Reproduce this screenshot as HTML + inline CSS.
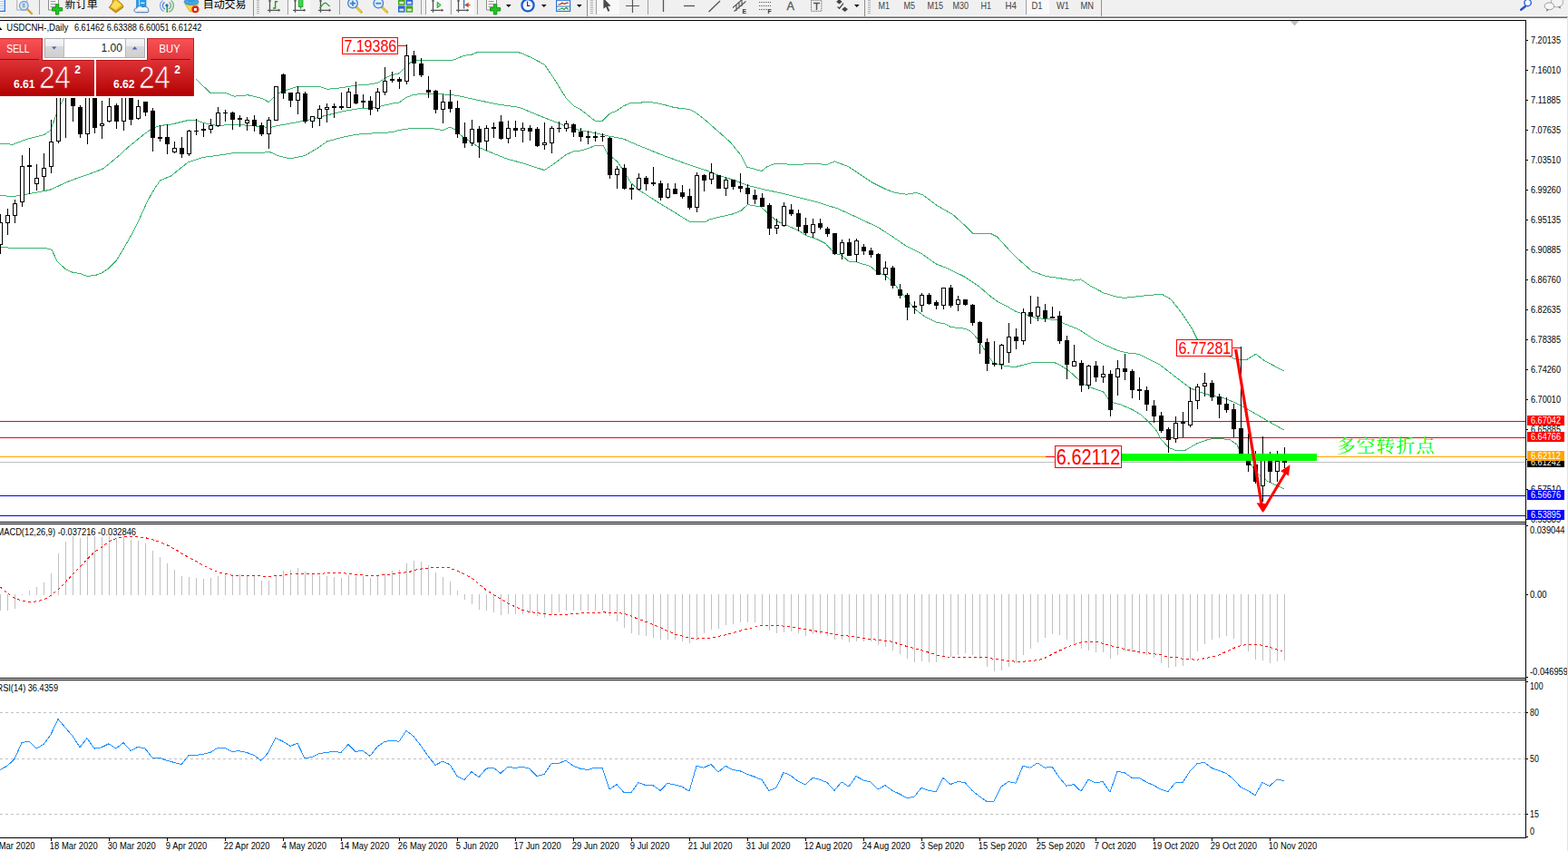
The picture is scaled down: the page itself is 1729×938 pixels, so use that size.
<!DOCTYPE html>
<html><head><meta charset="utf-8"><title>USDCNH Daily</title>
<style>
html,body{margin:0;padding:0;background:#fff;overflow:hidden}
svg{display:block;font-family:"Liberation Sans",sans-serif}
</style></head><body>
<svg width="1729" height="938" viewBox="0 0 1729 938">
<rect x="0" y="0" width="1729" height="938" fill="#fff"/>
<g shape-rendering="crispEdges">
<rect x="0" y="464" width="1682" height="1" fill="#ff0000"/>
<rect x="0" y="482" width="1682" height="1" fill="#ff0000"/>
<rect x="0" y="503" width="1682" height="1" fill="#ffa500"/>
<rect x="0" y="509" width="1682" height="1" fill="#c0c0c0"/>
<rect x="0" y="546" width="1682" height="1" fill="#0000ff"/>
<rect x="0" y="568" width="1682" height="1" fill="#0000ff"/>
</g>
<g id="bands" shape-rendering="crispEdges">
<polyline points="0.0,158.4 14.2,159.2 30.4,153.1 48.6,148.6 55.7,143.6 62.8,124.3 69.9,109.1 72.9,100.0 90.0,80.0 150.0,70.0 213.0,84.0 215.9,86.9 231.8,102.3 249.7,102.8 258.2,106.2 273.6,104.8 288.1,108.2 296.6,112.5 306.0,103.1 315.4,99.7 328.2,95.1 352.1,95.4 360.6,98.3 375.9,96.8 392.1,94.2 408.4,92.9 416.9,91.2 424.6,86.1 432.2,82.6 440.0,80.9 444.8,76.2 448.0,73.6 452.8,68.7 457.9,67.0 462.2,66.4 492.9,66.4 498.0,67.0 511.6,61.3 520.2,60.1 527.9,57.1 542.4,57.9 549.2,57.1 569.6,57.1 576.5,59.3 586.7,63.9 600.4,71.2 610.6,86.1 624.2,108.2 632.8,116.8 639.6,120.2 651.5,129.6 656.4,133.4 664.0,133.4 672.3,125.2 679.9,122.3 686.9,117.2 695.1,113.5 706.9,113.2 710.4,112.1 716.2,112.3 724.5,113.7 733.8,115.8 743.2,118.5 752.6,119.6 760.8,120.7 766.7,124.0 774.9,129.9 789.6,142.8 805.0,156.4 816.9,170.9 823.8,184.2 840.0,188.5 845.9,183.7 854.5,180.3 871.5,181.2 881.8,181.7 888.6,180.5 912.5,181.2 920.5,177.9 935.8,183.8 946.0,190.7 961.4,200.9 976.7,208.6 987.0,212.4 999.8,214.2 1010.0,212.4 1017.7,215.0 1033.0,226.5 1050.9,236.7 1063.7,248.3 1072.7,257.2 1091.9,257.2 1099.5,261.0 1112.3,275.1 1122.6,285.4 1137.9,298.9 1153.3,304.5 1171.2,307.1 1184.0,309.1 1191.6,307.9 1201.9,314.8 1217.2,323.0 1232.6,327.6 1240.2,328.3 1258.1,326.3 1281.2,324.2 1291.4,330.1 1304.2,346.7 1314.4,362.1 1319.9,373.3 1343.4,385.3 1353.2,391.9 1363.1,396.2 1375.1,396.2 1384.9,390.1 1393.7,397.3 1415.5,408.9" fill="none" stroke="#3cb371" stroke-width="1"/>
<polyline points="0.0,215.5 14.2,216.5 24.3,215.1 54.7,209.4 77.0,199.3 97.3,192.2 113.5,186.1 129.7,172.9 141.8,161.8 158.1,148.6 168.2,141.5 176.3,138.5 190.0,136.9 207.1,132.6 215.6,132.1 224.1,135.5 239.5,138.6 256.5,137.2 271.9,138.1 288.1,139.5 297.5,140.6 306.0,138.6 336.7,133.0 360.6,127.0 375.9,123.2 392.1,120.2 408.4,118.8 416.9,117.6 432.2,114.2 440.0,113.0 448.0,107.4 456.2,104.3 472.4,103.1 496.3,104.3 508.2,106.2 528.7,110.8 549.2,115.1 573.1,118.5 593.5,127.0 610.6,133.8 625.9,139.8 641.3,144.1 656.6,146.6 660.0,147.6 671.9,150.1 687.3,153.0 700.9,159.0 728.2,170.1 760.6,182.0 779.4,188.0 793.1,193.5 808.4,198.2 823.8,204.2 840.8,208.5 864.7,213.6 881.8,217.9 898.8,222.1 923.9,230.0 942.6,238.5 968.2,250.5 985.3,261.6 998.9,270.9 1016.0,279.5 1033.1,291.4 1041.6,294.5 1063.8,305.1 1079.1,315.3 1092.8,327.2 1101.3,333.2 1111.5,338.3 1120.1,343.4 1128.6,346.0 1142.2,350.3 1152.5,351.5 1165.5,352.8 1172.4,356.2 1189.4,363.0 1206.5,374.1 1220.1,380.9 1232.1,386.1 1240.6,388.6 1255.9,390.3 1274.7,399.7 1280.0,402.8 1295.3,414.8 1312.8,427.9 1328.1,434.0 1352.1,439.5 1367.4,446.5 1384.9,456.3 1398.0,464.0 1415.5,473.8" fill="none" stroke="#3cb371" stroke-width="1"/>
<polyline points="0.0,272.3 12.7,273.3 50.8,273.6 57.1,275.4 63.4,288.7 72.5,296.8 79.8,300.1 88.8,301.7 96.1,304.4 105.1,303.5 112.4,300.8 119.6,295.9 128.7,286.8 137.8,271.4 145.0,258.8 154.1,240.6 163.1,220.7 170.4,208.0 176.7,198.9 183.1,196.2 188.5,194.0 207.1,179.0 224.1,173.4 239.5,171.4 256.5,168.8 271.9,168.3 288.1,168.8 296.6,167.1 306.0,171.4 319.6,174.8 336.7,171.4 352.1,162.0 360.6,156.0 375.9,151.7 392.1,148.3 408.4,147.1 432.2,145.8 440.0,143.5 451.9,141.8 475.8,141.5 488.6,143.5 496.0,140.3 501.4,142.4 508.2,149.2 528.7,162.8 559.4,175.3 576.5,179.9 600.4,187.6 610.6,180.7 624.2,170.5 632.8,166.6 641.3,165.9 656.6,160.6 660.0,160.4 665.1,160.4 670.2,170.1 680.5,177.8 688.1,188.9 695.8,201.6 704.4,209.3 728.2,224.7 745.3,234.9 760.6,244.6 777.7,244.6 782.8,241.7 808.4,235.8 816.9,232.4 824.6,225.5 839.1,228.1 847.6,235.8 856.2,243.4 864.7,247.4 880.1,253.7 888.6,259.6 900.0,263.3 910.2,268.4 920.5,279.5 928.1,281.2 935.8,288.0 944.4,288.9 959.7,293.5 968.2,300.8 975.9,303.4 985.3,311.9 992.1,320.4 1000.6,330.6 1009.2,340.9 1019.4,348.6 1033.1,355.4 1041.6,356.6 1048.4,360.5 1063.8,362.2 1070.0,364.7 1078.5,374.1 1087.1,387.8 1095.6,400.6 1109.2,403.5 1119.5,404.5 1126.3,402.8 1138.2,399.7 1162.1,399.4 1168.9,402.3 1179.2,409.1 1189.4,418.5 1194.5,423.2 1206.5,428.4 1216.7,432.1 1223.5,441.5 1228.6,444.4 1235.5,445.8 1249.1,451.7 1257.6,456.9 1266.2,464.5 1274.7,473.9 1280.0,483.7 1288.7,493.5 1297.5,496.8 1306.2,496.8 1319.3,489.1 1332.5,484.3 1343.4,483.2 1356.5,484.8 1364.2,490.2 1367.4,499.0 1378.4,509.9 1384.9,520.8 1398.0,530.7 1415.5,538.7" fill="none" stroke="#3cb371" stroke-width="1"/>
</g>
<g id="candles" shape-rendering="crispEdges">
<rect x="0" y="236" width="1" height="44" fill="#000"/>
<rect x="-2" y="245" width="5" height="25" fill="#000"/>
<rect x="-1" y="246" width="3" height="23" fill="#fff"/>
<rect x="8" y="230" width="1" height="29" fill="#000"/>
<rect x="6" y="237" width="5" height="9" fill="#000"/>
<rect x="7" y="238" width="3" height="7" fill="#fff"/>
<rect x="16" y="220" width="1" height="26" fill="#000"/>
<rect x="14" y="224" width="5" height="14" fill="#000"/>
<rect x="15" y="225" width="3" height="12" fill="#fff"/>
<rect x="24" y="171" width="1" height="57" fill="#000"/>
<rect x="22" y="183" width="5" height="40" fill="#000"/>
<rect x="23" y="184" width="3" height="38" fill="#fff"/>
<rect x="32" y="163" width="1" height="51" fill="#000"/>
<rect x="30" y="182" width="5" height="2" fill="#000"/>
<rect x="40" y="181" width="1" height="29" fill="#000"/>
<rect x="38" y="196" width="5" height="7" fill="#000"/>
<rect x="39" y="197" width="3" height="5" fill="#fff"/>
<rect x="48" y="169" width="1" height="41" fill="#000"/>
<rect x="46" y="185" width="5" height="10" fill="#000"/>
<rect x="47" y="186" width="3" height="8" fill="#fff"/>
<rect x="56" y="132" width="1" height="59" fill="#000"/>
<rect x="54" y="156" width="5" height="28" fill="#000"/>
<rect x="55" y="157" width="3" height="26" fill="#fff"/>
<rect x="64" y="85" width="1" height="73" fill="#000"/>
<rect x="62" y="90" width="5" height="66" fill="#000"/>
<rect x="63" y="91" width="3" height="64" fill="#fff"/>
<rect x="72" y="85" width="1" height="67" fill="#000"/>
<rect x="70" y="92" width="5" height="8" fill="#000"/>
<rect x="80" y="90" width="1" height="44" fill="#000"/>
<rect x="78" y="95" width="5" height="22" fill="#000"/>
<rect x="88" y="116" width="1" height="36" fill="#000"/>
<rect x="86" y="118" width="5" height="30" fill="#000"/>
<rect x="96" y="95" width="1" height="64" fill="#000"/>
<rect x="94" y="100" width="5" height="48" fill="#000"/>
<rect x="95" y="101" width="3" height="46" fill="#fff"/>
<rect x="104" y="95" width="1" height="52" fill="#000"/>
<rect x="102" y="100" width="5" height="41" fill="#000"/>
<rect x="112" y="111" width="1" height="42" fill="#000"/>
<rect x="110" y="136" width="5" height="3" fill="#000"/>
<rect x="111" y="137" width="3" height="1" fill="#fff"/>
<rect x="120" y="108" width="1" height="27" fill="#000"/>
<rect x="118" y="117" width="5" height="17" fill="#000"/>
<rect x="119" y="118" width="3" height="15" fill="#fff"/>
<rect x="128" y="114" width="1" height="28" fill="#000"/>
<rect x="126" y="116" width="5" height="18" fill="#000"/>
<rect x="136" y="95" width="1" height="49" fill="#000"/>
<rect x="134" y="100" width="5" height="34" fill="#000"/>
<rect x="135" y="101" width="3" height="32" fill="#fff"/>
<rect x="144" y="95" width="1" height="43" fill="#000"/>
<rect x="142" y="100" width="5" height="32" fill="#000"/>
<rect x="152" y="110" width="1" height="22" fill="#000"/>
<rect x="150" y="117" width="5" height="14" fill="#000"/>
<rect x="151" y="118" width="3" height="12" fill="#fff"/>
<rect x="160" y="112" width="1" height="16" fill="#000"/>
<rect x="158" y="112" width="5" height="12" fill="#000"/>
<rect x="168" y="119" width="1" height="48" fill="#000"/>
<rect x="166" y="122" width="5" height="30" fill="#000"/>
<rect x="176" y="138" width="1" height="18" fill="#000"/>
<rect x="174" y="151" width="5" height="2" fill="#000"/>
<rect x="184" y="137" width="1" height="33" fill="#000"/>
<rect x="182" y="151" width="5" height="8" fill="#000"/>
<rect x="192" y="156" width="1" height="13" fill="#000"/>
<rect x="190" y="163" width="5" height="5" fill="#000"/>
<rect x="191" y="164" width="3" height="3" fill="#fff"/>
<rect x="200" y="151" width="1" height="23" fill="#000"/>
<rect x="198" y="163" width="5" height="7" fill="#000"/>
<rect x="208" y="143" width="1" height="29" fill="#000"/>
<rect x="206" y="144" width="5" height="26" fill="#000"/>
<rect x="207" y="145" width="3" height="24" fill="#fff"/>
<rect x="216" y="131" width="1" height="18" fill="#000"/>
<rect x="214" y="144" width="5" height="1" fill="#000"/>
<rect x="224" y="136" width="1" height="15" fill="#000"/>
<rect x="222" y="142" width="5" height="2" fill="#000"/>
<rect x="232" y="131" width="1" height="16" fill="#000"/>
<rect x="230" y="138" width="5" height="5" fill="#000"/>
<rect x="231" y="139" width="3" height="3" fill="#fff"/>
<rect x="240" y="118" width="1" height="22" fill="#000"/>
<rect x="238" y="124" width="5" height="15" fill="#000"/>
<rect x="239" y="125" width="3" height="13" fill="#fff"/>
<rect x="248" y="121" width="1" height="13" fill="#000"/>
<rect x="246" y="124" width="5" height="1" fill="#000"/>
<rect x="256" y="123" width="1" height="20" fill="#000"/>
<rect x="254" y="124" width="5" height="8" fill="#000"/>
<rect x="264" y="127" width="1" height="13" fill="#000"/>
<rect x="262" y="130" width="5" height="2" fill="#000"/>
<rect x="272" y="129" width="1" height="15" fill="#000"/>
<rect x="270" y="132" width="5" height="4" fill="#000"/>
<rect x="271" y="133" width="3" height="2" fill="#fff"/>
<rect x="280" y="127" width="1" height="18" fill="#000"/>
<rect x="278" y="132" width="5" height="7" fill="#000"/>
<rect x="288" y="135" width="1" height="15" fill="#000"/>
<rect x="286" y="138" width="5" height="10" fill="#000"/>
<rect x="296" y="129" width="1" height="35" fill="#000"/>
<rect x="294" y="132" width="5" height="16" fill="#000"/>
<rect x="295" y="133" width="3" height="14" fill="#fff"/>
<rect x="304" y="95" width="1" height="38" fill="#000"/>
<rect x="302" y="95" width="5" height="38" fill="#000"/>
<rect x="303" y="96" width="3" height="36" fill="#fff"/>
<rect x="312" y="81" width="1" height="28" fill="#000"/>
<rect x="310" y="82" width="5" height="21" fill="#000"/>
<rect x="320" y="102" width="1" height="16" fill="#000"/>
<rect x="318" y="102" width="5" height="9" fill="#000"/>
<rect x="328" y="95" width="1" height="31" fill="#000"/>
<rect x="326" y="102" width="5" height="9" fill="#000"/>
<rect x="327" y="103" width="3" height="7" fill="#fff"/>
<rect x="336" y="101" width="1" height="35" fill="#000"/>
<rect x="334" y="103" width="5" height="31" fill="#000"/>
<rect x="344" y="129" width="1" height="12" fill="#000"/>
<rect x="342" y="128" width="5" height="6" fill="#000"/>
<rect x="343" y="129" width="3" height="4" fill="#fff"/>
<rect x="352" y="116" width="1" height="23" fill="#000"/>
<rect x="350" y="120" width="5" height="11" fill="#000"/>
<rect x="351" y="121" width="3" height="9" fill="#fff"/>
<rect x="360" y="114" width="1" height="21" fill="#000"/>
<rect x="358" y="118" width="5" height="3" fill="#000"/>
<rect x="359" y="119" width="3" height="1" fill="#fff"/>
<rect x="368" y="114" width="1" height="16" fill="#000"/>
<rect x="366" y="117" width="5" height="2" fill="#000"/>
<rect x="376" y="102" width="1" height="19" fill="#000"/>
<rect x="374" y="117" width="5" height="2" fill="#000"/>
<rect x="384" y="97" width="1" height="22" fill="#000"/>
<rect x="382" y="101" width="5" height="18" fill="#000"/>
<rect x="383" y="102" width="3" height="16" fill="#fff"/>
<rect x="392" y="90" width="1" height="25" fill="#000"/>
<rect x="390" y="104" width="5" height="10" fill="#000"/>
<rect x="400" y="104" width="1" height="15" fill="#000"/>
<rect x="398" y="111" width="5" height="2" fill="#000"/>
<rect x="408" y="106" width="1" height="21" fill="#000"/>
<rect x="406" y="111" width="5" height="10" fill="#000"/>
<rect x="416" y="97" width="1" height="26" fill="#000"/>
<rect x="414" y="101" width="5" height="19" fill="#000"/>
<rect x="415" y="102" width="3" height="17" fill="#fff"/>
<rect x="424" y="74" width="1" height="31" fill="#000"/>
<rect x="422" y="89" width="5" height="13" fill="#000"/>
<rect x="423" y="90" width="3" height="11" fill="#fff"/>
<rect x="432" y="79" width="1" height="12" fill="#000"/>
<rect x="430" y="87" width="5" height="2" fill="#000"/>
<rect x="440" y="85" width="1" height="13" fill="#000"/>
<rect x="438" y="87" width="5" height="3" fill="#000"/>
<rect x="448" y="49" width="1" height="44" fill="#000"/>
<rect x="446" y="61" width="5" height="29" fill="#000"/>
<rect x="447" y="62" width="3" height="27" fill="#fff"/>
<rect x="456" y="56" width="1" height="28" fill="#000"/>
<rect x="454" y="61" width="5" height="9" fill="#000"/>
<rect x="464" y="64" width="1" height="21" fill="#000"/>
<rect x="462" y="70" width="5" height="13" fill="#000"/>
<rect x="472" y="84" width="1" height="24" fill="#000"/>
<rect x="470" y="99" width="5" height="3" fill="#000"/>
<rect x="480" y="99" width="1" height="26" fill="#000"/>
<rect x="478" y="100" width="5" height="21" fill="#000"/>
<rect x="488" y="104" width="1" height="32" fill="#000"/>
<rect x="486" y="112" width="5" height="9" fill="#000"/>
<rect x="487" y="113" width="3" height="7" fill="#fff"/>
<rect x="496" y="99" width="1" height="25" fill="#000"/>
<rect x="494" y="112" width="5" height="8" fill="#000"/>
<rect x="504" y="111" width="1" height="41" fill="#000"/>
<rect x="502" y="119" width="5" height="29" fill="#000"/>
<rect x="512" y="135" width="1" height="28" fill="#000"/>
<rect x="510" y="151" width="5" height="7" fill="#000"/>
<rect x="520" y="132" width="1" height="29" fill="#000"/>
<rect x="518" y="142" width="5" height="16" fill="#000"/>
<rect x="519" y="143" width="3" height="14" fill="#fff"/>
<rect x="528" y="139" width="1" height="35" fill="#000"/>
<rect x="526" y="142" width="5" height="15" fill="#000"/>
<rect x="536" y="138" width="1" height="28" fill="#000"/>
<rect x="534" y="141" width="5" height="15" fill="#000"/>
<rect x="535" y="142" width="3" height="13" fill="#fff"/>
<rect x="544" y="135" width="1" height="17" fill="#000"/>
<rect x="542" y="140" width="5" height="2" fill="#000"/>
<rect x="552" y="127" width="1" height="27" fill="#000"/>
<rect x="550" y="134" width="5" height="19" fill="#000"/>
<rect x="560" y="133" width="1" height="25" fill="#000"/>
<rect x="558" y="141" width="5" height="12" fill="#000"/>
<rect x="559" y="142" width="3" height="10" fill="#fff"/>
<rect x="568" y="133" width="1" height="18" fill="#000"/>
<rect x="566" y="141" width="5" height="3" fill="#000"/>
<rect x="576" y="135" width="1" height="22" fill="#000"/>
<rect x="574" y="141" width="5" height="3" fill="#000"/>
<rect x="575" y="142" width="3" height="1" fill="#fff"/>
<rect x="584" y="138" width="1" height="17" fill="#000"/>
<rect x="582" y="141" width="5" height="4" fill="#000"/>
<rect x="592" y="140" width="1" height="22" fill="#000"/>
<rect x="590" y="142" width="5" height="19" fill="#000"/>
<rect x="600" y="135" width="1" height="30" fill="#000"/>
<rect x="598" y="157" width="5" height="3" fill="#000"/>
<rect x="599" y="158" width="3" height="1" fill="#fff"/>
<rect x="608" y="139" width="1" height="30" fill="#000"/>
<rect x="606" y="141" width="5" height="17" fill="#000"/>
<rect x="607" y="142" width="3" height="15" fill="#fff"/>
<rect x="616" y="134" width="1" height="12" fill="#000"/>
<rect x="614" y="141" width="5" height="1" fill="#000"/>
<rect x="624" y="133" width="1" height="12" fill="#000"/>
<rect x="622" y="136" width="5" height="6" fill="#000"/>
<rect x="623" y="137" width="3" height="4" fill="#fff"/>
<rect x="632" y="136" width="1" height="15" fill="#000"/>
<rect x="630" y="137" width="5" height="9" fill="#000"/>
<rect x="640" y="141" width="1" height="15" fill="#000"/>
<rect x="638" y="145" width="5" height="6" fill="#000"/>
<rect x="648" y="144" width="1" height="15" fill="#000"/>
<rect x="646" y="150" width="5" height="2" fill="#000"/>
<rect x="656" y="145" width="1" height="11" fill="#000"/>
<rect x="654" y="150" width="5" height="2" fill="#000"/>
<rect x="664" y="147" width="1" height="9" fill="#000"/>
<rect x="662" y="150" width="5" height="1" fill="#000"/>
<rect x="672" y="151" width="1" height="46" fill="#000"/>
<rect x="670" y="152" width="5" height="41" fill="#000"/>
<rect x="680" y="183" width="1" height="25" fill="#000"/>
<rect x="678" y="186" width="5" height="7" fill="#000"/>
<rect x="679" y="187" width="3" height="5" fill="#fff"/>
<rect x="688" y="181" width="1" height="28" fill="#000"/>
<rect x="686" y="185" width="5" height="23" fill="#000"/>
<rect x="696" y="203" width="1" height="17" fill="#000"/>
<rect x="694" y="207" width="5" height="2" fill="#000"/>
<rect x="704" y="191" width="1" height="19" fill="#000"/>
<rect x="702" y="196" width="5" height="13" fill="#000"/>
<rect x="703" y="197" width="3" height="11" fill="#fff"/>
<rect x="712" y="194" width="1" height="16" fill="#000"/>
<rect x="710" y="196" width="5" height="7" fill="#000"/>
<rect x="720" y="184" width="1" height="21" fill="#000"/>
<rect x="718" y="201" width="5" height="2" fill="#000"/>
<rect x="728" y="199" width="1" height="22" fill="#000"/>
<rect x="726" y="202" width="5" height="16" fill="#000"/>
<rect x="736" y="202" width="1" height="17" fill="#000"/>
<rect x="734" y="208" width="5" height="10" fill="#000"/>
<rect x="735" y="209" width="3" height="8" fill="#fff"/>
<rect x="744" y="202" width="1" height="12" fill="#000"/>
<rect x="742" y="208" width="5" height="6" fill="#000"/>
<rect x="752" y="204" width="1" height="15" fill="#000"/>
<rect x="750" y="212" width="5" height="5" fill="#000"/>
<rect x="760" y="208" width="1" height="23" fill="#000"/>
<rect x="758" y="216" width="5" height="13" fill="#000"/>
<rect x="768" y="190" width="1" height="44" fill="#000"/>
<rect x="766" y="193" width="5" height="36" fill="#000"/>
<rect x="767" y="194" width="3" height="34" fill="#fff"/>
<rect x="776" y="192" width="1" height="19" fill="#000"/>
<rect x="774" y="193" width="5" height="6" fill="#000"/>
<rect x="784" y="180" width="1" height="23" fill="#000"/>
<rect x="782" y="190" width="5" height="8" fill="#000"/>
<rect x="783" y="191" width="3" height="6" fill="#fff"/>
<rect x="792" y="193" width="1" height="15" fill="#000"/>
<rect x="790" y="193" width="5" height="15" fill="#000"/>
<rect x="800" y="195" width="1" height="21" fill="#000"/>
<rect x="798" y="198" width="5" height="10" fill="#000"/>
<rect x="799" y="199" width="3" height="8" fill="#fff"/>
<rect x="808" y="198" width="1" height="11" fill="#000"/>
<rect x="806" y="198" width="5" height="8" fill="#000"/>
<rect x="816" y="191" width="1" height="21" fill="#000"/>
<rect x="814" y="205" width="5" height="3" fill="#000"/>
<rect x="824" y="203" width="1" height="22" fill="#000"/>
<rect x="822" y="207" width="5" height="7" fill="#000"/>
<rect x="832" y="209" width="1" height="16" fill="#000"/>
<rect x="830" y="215" width="5" height="5" fill="#000"/>
<rect x="840" y="213" width="1" height="15" fill="#000"/>
<rect x="838" y="218" width="5" height="10" fill="#000"/>
<rect x="848" y="224" width="1" height="35" fill="#000"/>
<rect x="846" y="226" width="5" height="26" fill="#000"/>
<rect x="856" y="241" width="1" height="17" fill="#000"/>
<rect x="854" y="248" width="5" height="4" fill="#000"/>
<rect x="855" y="249" width="3" height="2" fill="#fff"/>
<rect x="864" y="223" width="1" height="27" fill="#000"/>
<rect x="862" y="227" width="5" height="22" fill="#000"/>
<rect x="863" y="228" width="3" height="20" fill="#fff"/>
<rect x="872" y="225" width="1" height="13" fill="#000"/>
<rect x="870" y="231" width="5" height="5" fill="#000"/>
<rect x="880" y="231" width="1" height="24" fill="#000"/>
<rect x="878" y="235" width="5" height="15" fill="#000"/>
<rect x="888" y="240" width="1" height="19" fill="#000"/>
<rect x="886" y="248" width="5" height="9" fill="#000"/>
<rect x="896" y="241" width="1" height="21" fill="#000"/>
<rect x="894" y="247" width="5" height="10" fill="#000"/>
<rect x="895" y="248" width="3" height="8" fill="#fff"/>
<rect x="904" y="241" width="1" height="12" fill="#000"/>
<rect x="902" y="246" width="5" height="5" fill="#000"/>
<rect x="912" y="250" width="1" height="11" fill="#000"/>
<rect x="910" y="252" width="5" height="6" fill="#000"/>
<rect x="920" y="257" width="1" height="24" fill="#000"/>
<rect x="918" y="257" width="5" height="23" fill="#000"/>
<rect x="928" y="264" width="1" height="22" fill="#000"/>
<rect x="926" y="267" width="5" height="13" fill="#000"/>
<rect x="927" y="268" width="3" height="11" fill="#fff"/>
<rect x="936" y="263" width="1" height="19" fill="#000"/>
<rect x="934" y="267" width="5" height="15" fill="#000"/>
<rect x="944" y="263" width="1" height="26" fill="#000"/>
<rect x="942" y="265" width="5" height="16" fill="#000"/>
<rect x="943" y="266" width="3" height="14" fill="#fff"/>
<rect x="952" y="269" width="1" height="12" fill="#000"/>
<rect x="950" y="272" width="5" height="5" fill="#000"/>
<rect x="960" y="273" width="1" height="11" fill="#000"/>
<rect x="958" y="276" width="5" height="5" fill="#000"/>
<rect x="968" y="279" width="1" height="24" fill="#000"/>
<rect x="966" y="280" width="5" height="23" fill="#000"/>
<rect x="976" y="288" width="1" height="21" fill="#000"/>
<rect x="974" y="295" width="5" height="8" fill="#000"/>
<rect x="975" y="296" width="3" height="6" fill="#fff"/>
<rect x="984" y="293" width="1" height="25" fill="#000"/>
<rect x="982" y="295" width="5" height="20" fill="#000"/>
<rect x="992" y="313" width="1" height="16" fill="#000"/>
<rect x="990" y="319" width="5" height="7" fill="#000"/>
<rect x="1000" y="323" width="1" height="30" fill="#000"/>
<rect x="998" y="325" width="5" height="14" fill="#000"/>
<rect x="1008" y="332" width="1" height="14" fill="#000"/>
<rect x="1006" y="337" width="5" height="2" fill="#000"/>
<rect x="1016" y="323" width="1" height="21" fill="#000"/>
<rect x="1014" y="325" width="5" height="12" fill="#000"/>
<rect x="1015" y="326" width="3" height="10" fill="#fff"/>
<rect x="1024" y="323" width="1" height="13" fill="#000"/>
<rect x="1022" y="325" width="5" height="10" fill="#000"/>
<rect x="1032" y="331" width="1" height="10" fill="#000"/>
<rect x="1030" y="333" width="5" height="4" fill="#000"/>
<rect x="1040" y="317" width="1" height="24" fill="#000"/>
<rect x="1038" y="317" width="5" height="20" fill="#000"/>
<rect x="1039" y="318" width="3" height="18" fill="#fff"/>
<rect x="1048" y="314" width="1" height="25" fill="#000"/>
<rect x="1046" y="317" width="5" height="20" fill="#000"/>
<rect x="1056" y="326" width="1" height="17" fill="#000"/>
<rect x="1054" y="330" width="5" height="6" fill="#000"/>
<rect x="1055" y="331" width="3" height="4" fill="#fff"/>
<rect x="1064" y="330" width="1" height="7" fill="#000"/>
<rect x="1062" y="330" width="5" height="6" fill="#000"/>
<rect x="1072" y="335" width="1" height="24" fill="#000"/>
<rect x="1070" y="336" width="5" height="20" fill="#000"/>
<rect x="1080" y="354" width="1" height="36" fill="#000"/>
<rect x="1078" y="355" width="5" height="23" fill="#000"/>
<rect x="1088" y="373" width="1" height="36" fill="#000"/>
<rect x="1086" y="377" width="5" height="24" fill="#000"/>
<rect x="1096" y="376" width="1" height="28" fill="#000"/>
<rect x="1094" y="400" width="5" height="2" fill="#000"/>
<rect x="1104" y="379" width="1" height="28" fill="#000"/>
<rect x="1102" y="380" width="5" height="22" fill="#000"/>
<rect x="1103" y="381" width="3" height="20" fill="#fff"/>
<rect x="1112" y="356" width="1" height="44" fill="#000"/>
<rect x="1110" y="371" width="5" height="18" fill="#000"/>
<rect x="1111" y="372" width="3" height="16" fill="#fff"/>
<rect x="1120" y="362" width="1" height="23" fill="#000"/>
<rect x="1118" y="371" width="5" height="5" fill="#000"/>
<rect x="1128" y="340" width="1" height="40" fill="#000"/>
<rect x="1126" y="344" width="5" height="32" fill="#000"/>
<rect x="1127" y="345" width="3" height="30" fill="#fff"/>
<rect x="1136" y="326" width="1" height="31" fill="#000"/>
<rect x="1134" y="344" width="5" height="5" fill="#000"/>
<rect x="1144" y="327" width="1" height="27" fill="#000"/>
<rect x="1142" y="338" width="5" height="11" fill="#000"/>
<rect x="1143" y="339" width="3" height="9" fill="#fff"/>
<rect x="1152" y="335" width="1" height="20" fill="#000"/>
<rect x="1150" y="342" width="5" height="9" fill="#000"/>
<rect x="1160" y="338" width="1" height="13" fill="#000"/>
<rect x="1158" y="349" width="5" height="2" fill="#000"/>
<rect x="1168" y="343" width="1" height="36" fill="#000"/>
<rect x="1166" y="348" width="5" height="28" fill="#000"/>
<rect x="1176" y="370" width="1" height="48" fill="#000"/>
<rect x="1174" y="375" width="5" height="27" fill="#000"/>
<rect x="1184" y="380" width="1" height="24" fill="#000"/>
<rect x="1182" y="398" width="5" height="6" fill="#000"/>
<rect x="1183" y="399" width="3" height="4" fill="#fff"/>
<rect x="1192" y="397" width="1" height="35" fill="#000"/>
<rect x="1190" y="400" width="5" height="25" fill="#000"/>
<rect x="1200" y="402" width="1" height="27" fill="#000"/>
<rect x="1198" y="403" width="5" height="22" fill="#000"/>
<rect x="1199" y="404" width="3" height="20" fill="#fff"/>
<rect x="1208" y="398" width="1" height="23" fill="#000"/>
<rect x="1206" y="403" width="5" height="13" fill="#000"/>
<rect x="1216" y="403" width="1" height="19" fill="#000"/>
<rect x="1214" y="412" width="5" height="4" fill="#000"/>
<rect x="1215" y="413" width="3" height="2" fill="#fff"/>
<rect x="1224" y="408" width="1" height="51" fill="#000"/>
<rect x="1222" y="412" width="5" height="40" fill="#000"/>
<rect x="1232" y="397" width="1" height="39" fill="#000"/>
<rect x="1230" y="406" width="5" height="10" fill="#000"/>
<rect x="1231" y="407" width="3" height="8" fill="#fff"/>
<rect x="1240" y="390" width="1" height="29" fill="#000"/>
<rect x="1238" y="406" width="5" height="4" fill="#000"/>
<rect x="1248" y="407" width="1" height="32" fill="#000"/>
<rect x="1246" y="409" width="5" height="21" fill="#000"/>
<rect x="1256" y="416" width="1" height="25" fill="#000"/>
<rect x="1254" y="429" width="5" height="2" fill="#000"/>
<rect x="1264" y="426" width="1" height="27" fill="#000"/>
<rect x="1262" y="430" width="5" height="16" fill="#000"/>
<rect x="1272" y="441" width="1" height="25" fill="#000"/>
<rect x="1270" y="447" width="5" height="12" fill="#000"/>
<rect x="1280" y="454" width="1" height="23" fill="#000"/>
<rect x="1278" y="458" width="5" height="17" fill="#000"/>
<rect x="1288" y="471" width="1" height="28" fill="#000"/>
<rect x="1286" y="473" width="5" height="12" fill="#000"/>
<rect x="1296" y="459" width="1" height="29" fill="#000"/>
<rect x="1294" y="466" width="5" height="18" fill="#000"/>
<rect x="1295" y="467" width="3" height="16" fill="#fff"/>
<rect x="1304" y="454" width="1" height="28" fill="#000"/>
<rect x="1302" y="465" width="5" height="2" fill="#000"/>
<rect x="1312" y="427" width="1" height="44" fill="#000"/>
<rect x="1310" y="442" width="5" height="27" fill="#000"/>
<rect x="1311" y="443" width="3" height="25" fill="#fff"/>
<rect x="1320" y="423" width="1" height="28" fill="#000"/>
<rect x="1318" y="426" width="5" height="16" fill="#000"/>
<rect x="1319" y="427" width="3" height="14" fill="#fff"/>
<rect x="1328" y="411" width="1" height="26" fill="#000"/>
<rect x="1326" y="422" width="5" height="4" fill="#000"/>
<rect x="1327" y="423" width="3" height="2" fill="#fff"/>
<rect x="1336" y="419" width="1" height="23" fill="#000"/>
<rect x="1334" y="422" width="5" height="16" fill="#000"/>
<rect x="1344" y="434" width="1" height="27" fill="#000"/>
<rect x="1342" y="437" width="5" height="9" fill="#000"/>
<rect x="1352" y="438" width="1" height="17" fill="#000"/>
<rect x="1350" y="445" width="5" height="7" fill="#000"/>
<rect x="1360" y="445" width="1" height="37" fill="#000"/>
<rect x="1358" y="451" width="5" height="22" fill="#000"/>
<rect x="1368" y="382" width="1" height="126" fill="#000"/>
<rect x="1366" y="472" width="5" height="36" fill="#000"/>
<rect x="1376" y="478" width="1" height="42" fill="#000"/>
<rect x="1374" y="503" width="5" height="10" fill="#000"/>
<rect x="1384" y="497" width="1" height="36" fill="#000"/>
<rect x="1382" y="512" width="5" height="19" fill="#000"/>
<rect x="1392" y="481" width="1" height="72" fill="#000"/>
<rect x="1390" y="504" width="5" height="32" fill="#000"/>
<rect x="1391" y="505" width="3" height="30" fill="#fff"/>
<rect x="1400" y="498" width="1" height="34" fill="#000"/>
<rect x="1398" y="504" width="5" height="16" fill="#000"/>
<rect x="1408" y="497" width="1" height="34" fill="#000"/>
<rect x="1406" y="508" width="5" height="12" fill="#000"/>
<rect x="1407" y="509" width="3" height="10" fill="#fff"/>
<rect x="1416" y="493" width="1" height="23" fill="#000"/>
<rect x="1414" y="506" width="5" height="4" fill="#000"/>
</g>
<g id="macd" shape-rendering="crispEdges">
<rect x="0" y="655" width="1" height="18" fill="#c0c0c0"/>
<rect x="8" y="655" width="1" height="18" fill="#c0c0c0"/>
<rect x="16" y="655" width="1" height="16" fill="#c0c0c0"/>
<rect x="24" y="655" width="1" height="1" fill="#c0c0c0"/>
<rect x="32" y="651" width="1" height="5" fill="#c0c0c0"/>
<rect x="40" y="647" width="1" height="9" fill="#c0c0c0"/>
<rect x="48" y="642" width="1" height="14" fill="#c0c0c0"/>
<rect x="56" y="632" width="1" height="24" fill="#c0c0c0"/>
<rect x="64" y="610" width="1" height="46" fill="#c0c0c0"/>
<rect x="72" y="597" width="1" height="59" fill="#c0c0c0"/>
<rect x="80" y="591" width="1" height="65" fill="#c0c0c0"/>
<rect x="88" y="593" width="1" height="63" fill="#c0c0c0"/>
<rect x="96" y="591" width="1" height="65" fill="#c0c0c0"/>
<rect x="104" y="591" width="1" height="65" fill="#c0c0c0"/>
<rect x="112" y="592" width="1" height="64" fill="#c0c0c0"/>
<rect x="120" y="591" width="1" height="65" fill="#c0c0c0"/>
<rect x="128" y="593" width="1" height="63" fill="#c0c0c0"/>
<rect x="136" y="591" width="1" height="65" fill="#c0c0c0"/>
<rect x="144" y="595" width="1" height="61" fill="#c0c0c0"/>
<rect x="152" y="596" width="1" height="60" fill="#c0c0c0"/>
<rect x="160" y="599" width="1" height="57" fill="#c0c0c0"/>
<rect x="168" y="607" width="1" height="49" fill="#c0c0c0"/>
<rect x="176" y="614" width="1" height="42" fill="#c0c0c0"/>
<rect x="184" y="621" width="1" height="35" fill="#c0c0c0"/>
<rect x="192" y="628" width="1" height="28" fill="#c0c0c0"/>
<rect x="200" y="635" width="1" height="21" fill="#c0c0c0"/>
<rect x="208" y="636" width="1" height="20" fill="#c0c0c0"/>
<rect x="216" y="637" width="1" height="19" fill="#c0c0c0"/>
<rect x="224" y="638" width="1" height="18" fill="#c0c0c0"/>
<rect x="232" y="637" width="1" height="19" fill="#c0c0c0"/>
<rect x="240" y="635" width="1" height="21" fill="#c0c0c0"/>
<rect x="248" y="633" width="1" height="23" fill="#c0c0c0"/>
<rect x="256" y="633" width="1" height="23" fill="#c0c0c0"/>
<rect x="264" y="633" width="1" height="23" fill="#c0c0c0"/>
<rect x="272" y="634" width="1" height="22" fill="#c0c0c0"/>
<rect x="280" y="635" width="1" height="21" fill="#c0c0c0"/>
<rect x="288" y="640" width="1" height="16" fill="#c0c0c0"/>
<rect x="296" y="640" width="1" height="16" fill="#c0c0c0"/>
<rect x="304" y="634" width="1" height="22" fill="#c0c0c0"/>
<rect x="312" y="629" width="1" height="27" fill="#c0c0c0"/>
<rect x="320" y="628" width="1" height="28" fill="#c0c0c0"/>
<rect x="328" y="626" width="1" height="30" fill="#c0c0c0"/>
<rect x="336" y="630" width="1" height="26" fill="#c0c0c0"/>
<rect x="344" y="632" width="1" height="24" fill="#c0c0c0"/>
<rect x="352" y="634" width="1" height="22" fill="#c0c0c0"/>
<rect x="360" y="635" width="1" height="21" fill="#c0c0c0"/>
<rect x="368" y="636" width="1" height="20" fill="#c0c0c0"/>
<rect x="376" y="637" width="1" height="19" fill="#c0c0c0"/>
<rect x="384" y="634" width="1" height="22" fill="#c0c0c0"/>
<rect x="392" y="635" width="1" height="21" fill="#c0c0c0"/>
<rect x="400" y="635" width="1" height="21" fill="#c0c0c0"/>
<rect x="408" y="637" width="1" height="19" fill="#c0c0c0"/>
<rect x="416" y="634" width="1" height="22" fill="#c0c0c0"/>
<rect x="424" y="632" width="1" height="24" fill="#c0c0c0"/>
<rect x="432" y="629" width="1" height="27" fill="#c0c0c0"/>
<rect x="440" y="628" width="1" height="28" fill="#c0c0c0"/>
<rect x="448" y="621" width="1" height="35" fill="#c0c0c0"/>
<rect x="456" y="618" width="1" height="38" fill="#c0c0c0"/>
<rect x="464" y="619" width="1" height="37" fill="#c0c0c0"/>
<rect x="472" y="623" width="1" height="33" fill="#c0c0c0"/>
<rect x="480" y="631" width="1" height="25" fill="#c0c0c0"/>
<rect x="488" y="636" width="1" height="20" fill="#c0c0c0"/>
<rect x="496" y="641" width="1" height="15" fill="#c0c0c0"/>
<rect x="504" y="651" width="1" height="5" fill="#c0c0c0"/>
<rect x="512" y="655" width="1" height="6" fill="#c0c0c0"/>
<rect x="520" y="655" width="1" height="11" fill="#c0c0c0"/>
<rect x="528" y="655" width="1" height="17" fill="#c0c0c0"/>
<rect x="536" y="655" width="1" height="18" fill="#c0c0c0"/>
<rect x="544" y="655" width="1" height="20" fill="#c0c0c0"/>
<rect x="552" y="655" width="1" height="23" fill="#c0c0c0"/>
<rect x="560" y="655" width="1" height="22" fill="#c0c0c0"/>
<rect x="568" y="655" width="1" height="22" fill="#c0c0c0"/>
<rect x="576" y="655" width="1" height="22" fill="#c0c0c0"/>
<rect x="584" y="655" width="1" height="21" fill="#c0c0c0"/>
<rect x="592" y="655" width="1" height="24" fill="#c0c0c0"/>
<rect x="600" y="655" width="1" height="26" fill="#c0c0c0"/>
<rect x="608" y="655" width="1" height="23" fill="#c0c0c0"/>
<rect x="616" y="655" width="1" height="20" fill="#c0c0c0"/>
<rect x="624" y="655" width="1" height="18" fill="#c0c0c0"/>
<rect x="632" y="655" width="1" height="18" fill="#c0c0c0"/>
<rect x="640" y="655" width="1" height="18" fill="#c0c0c0"/>
<rect x="648" y="655" width="1" height="18" fill="#c0c0c0"/>
<rect x="656" y="655" width="1" height="18" fill="#c0c0c0"/>
<rect x="664" y="655" width="1" height="18" fill="#c0c0c0"/>
<rect x="672" y="655" width="1" height="24" fill="#c0c0c0"/>
<rect x="680" y="655" width="1" height="30" fill="#c0c0c0"/>
<rect x="688" y="655" width="1" height="37" fill="#c0c0c0"/>
<rect x="696" y="655" width="1" height="43" fill="#c0c0c0"/>
<rect x="704" y="655" width="1" height="45" fill="#c0c0c0"/>
<rect x="712" y="655" width="1" height="46" fill="#c0c0c0"/>
<rect x="720" y="655" width="1" height="48" fill="#c0c0c0"/>
<rect x="728" y="655" width="1" height="50" fill="#c0c0c0"/>
<rect x="736" y="655" width="1" height="50" fill="#c0c0c0"/>
<rect x="744" y="655" width="1" height="50" fill="#c0c0c0"/>
<rect x="752" y="655" width="1" height="52" fill="#c0c0c0"/>
<rect x="760" y="655" width="1" height="54" fill="#c0c0c0"/>
<rect x="768" y="655" width="1" height="48" fill="#c0c0c0"/>
<rect x="776" y="655" width="1" height="43" fill="#c0c0c0"/>
<rect x="784" y="655" width="1" height="39" fill="#c0c0c0"/>
<rect x="792" y="655" width="1" height="38" fill="#c0c0c0"/>
<rect x="800" y="655" width="1" height="34" fill="#c0c0c0"/>
<rect x="808" y="655" width="1" height="33" fill="#c0c0c0"/>
<rect x="816" y="655" width="1" height="31" fill="#c0c0c0"/>
<rect x="824" y="655" width="1" height="31" fill="#c0c0c0"/>
<rect x="832" y="655" width="1" height="31" fill="#c0c0c0"/>
<rect x="840" y="655" width="1" height="34" fill="#c0c0c0"/>
<rect x="848" y="655" width="1" height="40" fill="#c0c0c0"/>
<rect x="856" y="655" width="1" height="43" fill="#c0c0c0"/>
<rect x="864" y="655" width="1" height="42" fill="#c0c0c0"/>
<rect x="872" y="655" width="1" height="41" fill="#c0c0c0"/>
<rect x="880" y="655" width="1" height="43" fill="#c0c0c0"/>
<rect x="888" y="655" width="1" height="46" fill="#c0c0c0"/>
<rect x="896" y="655" width="1" height="44" fill="#c0c0c0"/>
<rect x="904" y="655" width="1" height="44" fill="#c0c0c0"/>
<rect x="912" y="655" width="1" height="46" fill="#c0c0c0"/>
<rect x="920" y="655" width="1" height="50" fill="#c0c0c0"/>
<rect x="928" y="655" width="1" height="50" fill="#c0c0c0"/>
<rect x="936" y="655" width="1" height="53" fill="#c0c0c0"/>
<rect x="944" y="655" width="1" height="52" fill="#c0c0c0"/>
<rect x="952" y="655" width="1" height="52" fill="#c0c0c0"/>
<rect x="960" y="655" width="1" height="52" fill="#c0c0c0"/>
<rect x="968" y="655" width="1" height="56" fill="#c0c0c0"/>
<rect x="976" y="655" width="1" height="58" fill="#c0c0c0"/>
<rect x="984" y="655" width="1" height="62" fill="#c0c0c0"/>
<rect x="992" y="655" width="1" height="66" fill="#c0c0c0"/>
<rect x="1000" y="655" width="1" height="71" fill="#c0c0c0"/>
<rect x="1008" y="655" width="1" height="75" fill="#c0c0c0"/>
<rect x="1016" y="655" width="1" height="74" fill="#c0c0c0"/>
<rect x="1024" y="655" width="1" height="75" fill="#c0c0c0"/>
<rect x="1032" y="655" width="1" height="75" fill="#c0c0c0"/>
<rect x="1040" y="655" width="1" height="69" fill="#c0c0c0"/>
<rect x="1048" y="655" width="1" height="69" fill="#c0c0c0"/>
<rect x="1056" y="655" width="1" height="67" fill="#c0c0c0"/>
<rect x="1064" y="655" width="1" height="65" fill="#c0c0c0"/>
<rect x="1072" y="655" width="1" height="67" fill="#c0c0c0"/>
<rect x="1080" y="655" width="1" height="71" fill="#c0c0c0"/>
<rect x="1088" y="655" width="1" height="80" fill="#c0c0c0"/>
<rect x="1096" y="655" width="1" height="85" fill="#c0c0c0"/>
<rect x="1104" y="655" width="1" height="84" fill="#c0c0c0"/>
<rect x="1112" y="655" width="1" height="80" fill="#c0c0c0"/>
<rect x="1120" y="655" width="1" height="76" fill="#c0c0c0"/>
<rect x="1128" y="655" width="1" height="67" fill="#c0c0c0"/>
<rect x="1136" y="655" width="1" height="60" fill="#c0c0c0"/>
<rect x="1144" y="655" width="1" height="53" fill="#c0c0c0"/>
<rect x="1152" y="655" width="1" height="48" fill="#c0c0c0"/>
<rect x="1160" y="655" width="1" height="44" fill="#c0c0c0"/>
<rect x="1168" y="655" width="1" height="45" fill="#c0c0c0"/>
<rect x="1176" y="655" width="1" height="50" fill="#c0c0c0"/>
<rect x="1184" y="655" width="1" height="55" fill="#c0c0c0"/>
<rect x="1192" y="655" width="1" height="60" fill="#c0c0c0"/>
<rect x="1200" y="655" width="1" height="62" fill="#c0c0c0"/>
<rect x="1208" y="655" width="1" height="64" fill="#c0c0c0"/>
<rect x="1216" y="655" width="1" height="64" fill="#c0c0c0"/>
<rect x="1224" y="655" width="1" height="71" fill="#c0c0c0"/>
<rect x="1232" y="655" width="1" height="67" fill="#c0c0c0"/>
<rect x="1240" y="655" width="1" height="63" fill="#c0c0c0"/>
<rect x="1248" y="655" width="1" height="64" fill="#c0c0c0"/>
<rect x="1256" y="655" width="1" height="66" fill="#c0c0c0"/>
<rect x="1264" y="655" width="1" height="67" fill="#c0c0c0"/>
<rect x="1272" y="655" width="1" height="70" fill="#c0c0c0"/>
<rect x="1280" y="655" width="1" height="76" fill="#c0c0c0"/>
<rect x="1288" y="655" width="1" height="81" fill="#c0c0c0"/>
<rect x="1296" y="655" width="1" height="80" fill="#c0c0c0"/>
<rect x="1304" y="655" width="1" height="79" fill="#c0c0c0"/>
<rect x="1312" y="655" width="1" height="72" fill="#c0c0c0"/>
<rect x="1320" y="655" width="1" height="63" fill="#c0c0c0"/>
<rect x="1328" y="655" width="1" height="55" fill="#c0c0c0"/>
<rect x="1336" y="655" width="1" height="50" fill="#c0c0c0"/>
<rect x="1344" y="655" width="1" height="48" fill="#c0c0c0"/>
<rect x="1352" y="655" width="1" height="46" fill="#c0c0c0"/>
<rect x="1360" y="655" width="1" height="49" fill="#c0c0c0"/>
<rect x="1368" y="655" width="1" height="56" fill="#c0c0c0"/>
<rect x="1376" y="655" width="1" height="63" fill="#c0c0c0"/>
<rect x="1384" y="655" width="1" height="72" fill="#c0c0c0"/>
<rect x="1392" y="655" width="1" height="73" fill="#c0c0c0"/>
<rect x="1400" y="655" width="1" height="76" fill="#c0c0c0"/>
<rect x="1408" y="655" width="1" height="74" fill="#c0c0c0"/>
<rect x="1416" y="655" width="1" height="73" fill="#c0c0c0"/>
<polyline points="0.0,646.8 8.3,654.1 16.2,659.3 24.4,662.4 32.3,663.5 40.4,662.9 48.3,660.8 56.4,656.2 64.3,649.5 72.2,641.6 80.4,632.9 88.3,624.6 96.4,616.2 104.3,608.3 112.4,603.1 120.3,596.9 128.5,593.3 136.4,591.7 144.3,591.2 152.4,591.7 160.3,592.7 168.4,594.8 176.3,597.5 184.5,601.0 192.4,605.2 200.3,610.0 208.4,614.6 216.3,618.7 224.4,623.3 232.4,627.1 240.5,630.6 248.4,632.3 256.3,634.3 264.4,634.5 280.4,634.5 288.4,635.0 296.5,635.4 304.4,634.8 312.3,634.3 320.4,632.9 328.3,632.5 336.5,632.3 344.4,632.3 350.0,632.3 376.0,631.2 383.3,632.3 406.2,634.3 423.9,633.9 439.9,631.8 452.0,630.2 458.3,628.1 472.0,626.0 483.3,625.4 495.7,626.0 504.1,629.1 512.4,633.3 520.7,637.5 528.0,643.7 536.1,650.4 544.0,655.2 552.0,660.4 560.1,665.2 568.0,668.7 576.1,672.4 584.0,674.5 592.1,675.6 600.1,676.6 608.2,677.4 624.2,677.4 632.1,676.4 648.1,675.6 664.2,674.9 680.2,675.4 688.1,676.4 696.0,679.1 700.0,680.8 712.1,685.3 727.9,691.6 743.9,698.9 760.0,703.0 768.1,704.1 783.9,703.0 799.9,699.9 816.0,695.3 832.0,691.2 841.6,689.1 856.2,689.1 872.0,691.2 888.0,693.7 895.9,695.3 912.0,697.8 928.0,700.3 944.0,702.0 960.0,704.5 976.1,706.2 984.0,707.2 991.9,710.3 1000.0,712.4 1016.1,716.6 1032.1,721.8 1047.9,724.5 1072.0,724.9 1084.7,724.2 1096.3,726.5 1120.1,729.3 1136.1,728.8 1149.5,726.5 1161.0,720.7 1176.1,713.3 1192.0,708.0 1209.6,707.3 1216.6,709.6 1232.8,713.8 1248.3,717.3 1264.2,719.6 1280.2,721.9 1288.3,724.2 1296.2,724.2 1304.5,726.5 1320.2,727.2 1336.2,724.2 1344.3,721.9 1360.2,714.5 1368.3,711.5 1376.2,710.3 1385.5,710.3 1392.4,711.5 1400.3,713.3 1408.4,716.1 1415.5,718.4" fill="none" stroke="#ff0000" stroke-width="1" stroke-dasharray="3 3"/>
</g>
<g id="rsi" shape-rendering="crispEdges">
<line x1="0" y1="785.5" x2="1682" y2="785.5" stroke="#c0c0c0" stroke-width="1" stroke-dasharray="3 3"/>
<line x1="0" y1="836.5" x2="1682" y2="836.5" stroke="#c0c0c0" stroke-width="1" stroke-dasharray="3 3"/>
<line x1="0" y1="897.5" x2="1682" y2="897.5" stroke="#c0c0c0" stroke-width="1" stroke-dasharray="3 3"/>
<polyline points="0.0,848.5 8.0,844.2 16.0,836.6 24.0,818.5 32.0,817.2 40.0,825.1 48.0,820.5 56.0,809.8 64.0,792.5 72.0,802.0 80.0,811.1 88.0,823.6 96.0,813.7 104.0,825.1 112.0,823.8 120.0,819.8 128.0,825.1 136.0,818.5 144.0,827.4 152.0,823.3 160.0,825.1 168.0,835.3 176.0,835.3 184.0,838.3 192.0,840.4 200.0,842.7 208.0,832.5 216.0,832.5 224.0,831.2 232.0,829.4 240.0,824.3 248.0,824.3 256.0,828.4 264.0,827.7 272.0,829.4 280.0,832.5 288.0,838.3 296.0,829.4 304.0,813.4 312.0,817.2 320.0,822.3 328.0,819.3 336.0,835.8 344.0,834.5 352.0,830.7 360.0,829.4 368.0,828.4 376.0,829.4 384.0,820.5 392.0,828.4 400.0,827.4 408.0,833.3 416.0,823.1 424.0,817.5 432.0,816.2 440.0,817.2 448.0,805.3 456.0,811.6 464.0,821.8 472.0,833.3 480.0,843.4 488.0,839.1 496.0,842.7 504.0,855.4 512.0,859.5 520.0,850.6 528.0,856.7 536.0,847.2 544.0,846.2 552.0,852.3 560.0,845.2 568.0,846.5 576.0,845.2 584.0,847.2 592.0,855.6 600.0,853.4 608.0,841.7 616.0,841.4 624.0,838.3 632.0,844.2 640.0,847.2 648.0,848.5 656.0,846.2 664.0,846.2 672.0,870.2 680.0,864.6 688.0,873.5 696.0,873.5 704.0,862.5 712.0,865.6 720.0,865.6 728.0,871.4 736.0,863.3 744.0,865.1 752.0,867.1 760.0,872.2 768.0,844.2 776.0,846.2 784.0,842.4 792.0,851.1 800.0,844.2 808.0,848.5 816.0,849.8 824.0,853.4 832.0,856.2 840.0,859.5 848.0,871.4 856.0,868.4 864.0,851.4 872.0,854.9 880.0,861.2 888.0,865.1 896.0,857.4 904.0,859.2 912.0,862.5 920.0,871.4 928.0,861.8 936.0,867.1 944.0,855.6 952.0,860.0 960.0,862.0 968.0,870.2 976.0,865.6 984.0,871.4 992.0,875.2 1000.0,879.6 1008.0,878.3 1016.0,868.4 1024.0,871.4 1032.0,872.7 1040.0,857.4 1048.0,864.6 1056.0,861.5 1064.0,862.5 1072.0,871.4 1080.0,877.8 1088.0,883.4 1096.0,883.4 1104.0,867.1 1112.0,861.5 1120.0,863.3 1128.0,844.2 1136.0,846.2 1144.0,840.9 1152.0,846.2 1160.0,845.2 1168.0,856.7 1176.0,866.3 1184.0,864.6 1192.0,872.2 1200.0,859.2 1208.0,863.0 1216.0,861.5 1224.0,873.2 1232.0,850.3 1240.0,851.6 1248.0,857.4 1256.0,857.4 1264.0,861.9 1272.0,865.6 1280.0,870.2 1288.0,872.5 1296.0,862.7 1304.0,862.5 1312.0,850.3 1320.0,841.7 1328.0,840.4 1336.0,846.5 1344.0,849.3 1352.0,852.3 1360.0,858.7 1368.0,867.6 1376.0,871.4 1384.0,876.5 1392.0,862.5 1400.0,866.3 1408.0,859.2 1416.0,860.5" fill="none" stroke="#1e90ff" stroke-width="1"/>
</g>
<g id="overlays" shape-rendering="crispEdges">
<rect x="1237" y="500" width="215" height="8" fill="#00ff00"/>
<rect x="377" y="41" width="62" height="19" fill="#ff0000"/>
<rect x="378" y="42" width="60" height="17" fill="#fff"/>
<text x="379.4" y="57" font-size="17.7" fill="#ff0000" textLength="57.8" lengthAdjust="spacingAndGlyphs" shape-rendering="auto">7.19386</text>
<rect x="439" y="50" width="9" height="1" fill="#ff0000"/>
<rect x="1297" y="374" width="62" height="19" fill="#ff0000"/>
<rect x="1298" y="375" width="60" height="17" fill="#fff"/>
<text x="1299.4" y="390" font-size="17.7" fill="#ff0000" textLength="57.8" lengthAdjust="spacingAndGlyphs" shape-rendering="auto">6.77281</text>
<rect x="1359" y="383" width="9" height="1" fill="#ff0000"/>
<rect x="1153" y="503" width="10" height="1" fill="#ff0000"/>
<rect x="1163" y="491" width="74" height="25" fill="#ff0000"/>
<rect x="1164" y="492" width="72" height="23" fill="#fff"/>
<text x="1164.8" y="512" font-size="23.5" fill="#ff0000" textLength="70.4" lengthAdjust="spacingAndGlyphs" shape-rendering="auto">6.62112</text>
</g>
<g id="arrows" fill="#ff0000" stroke="none">
<line x1="1362.6" y1="384.9" x2="1391.3" y2="557" stroke="#ff0000" stroke-width="3.2"/>
<polygon points="1385.6,554.2 1398.8,555.6 1392.4,565"/>
<line x1="1392.4" y1="563" x2="1419" y2="518.5" stroke="#ff0000" stroke-width="3"/>
<polygon points="1422.6,512.2 1412,519.2 1421,524.6"/>
</g>
<g id="frames" shape-rendering="crispEdges">
<rect x="0" y="22" width="1683" height="1" fill="#000"/>
<rect x="0" y="575" width="1683" height="1" fill="#000"/>
<rect x="0" y="577" width="1683" height="1" fill="#000"/>
<rect x="0" y="747" width="1683" height="1" fill="#000"/>
<rect x="0" y="749" width="1683" height="1" fill="#000"/>
<rect x="0" y="923" width="1683" height="1" fill="#000"/>
<rect x="1682" y="22" width="1" height="902" fill="#000"/>
</g>
<g id="axis" shape-rendering="crispEdges">
<rect x="1683" y="44" width="2" height="1" fill="#000"/>
<text x="1688" y="48" font-size="10.3" fill="#000" textLength="33" lengthAdjust="spacingAndGlyphs" shape-rendering="auto">7.20135</text>
<rect x="1683" y="77" width="2" height="1" fill="#000"/>
<text x="1688" y="81" font-size="10.3" fill="#000" textLength="33" lengthAdjust="spacingAndGlyphs" shape-rendering="auto">7.16010</text>
<rect x="1683" y="110" width="2" height="1" fill="#000"/>
<text x="1688" y="114" font-size="10.3" fill="#000" textLength="33" lengthAdjust="spacingAndGlyphs" shape-rendering="auto">7.11885</text>
<rect x="1683" y="143" width="2" height="1" fill="#000"/>
<text x="1688" y="147" font-size="10.3" fill="#000" textLength="33" lengthAdjust="spacingAndGlyphs" shape-rendering="auto">7.07635</text>
<rect x="1683" y="176" width="2" height="1" fill="#000"/>
<text x="1688" y="180" font-size="10.3" fill="#000" textLength="33" lengthAdjust="spacingAndGlyphs" shape-rendering="auto">7.03510</text>
<rect x="1683" y="209" width="2" height="1" fill="#000"/>
<text x="1688" y="213" font-size="10.3" fill="#000" textLength="33" lengthAdjust="spacingAndGlyphs" shape-rendering="auto">6.99260</text>
<rect x="1683" y="242" width="2" height="1" fill="#000"/>
<text x="1688" y="246" font-size="10.3" fill="#000" textLength="33" lengthAdjust="spacingAndGlyphs" shape-rendering="auto">6.95135</text>
<rect x="1683" y="275" width="2" height="1" fill="#000"/>
<text x="1688" y="279" font-size="10.3" fill="#000" textLength="33" lengthAdjust="spacingAndGlyphs" shape-rendering="auto">6.90885</text>
<rect x="1683" y="308" width="2" height="1" fill="#000"/>
<text x="1688" y="312" font-size="10.3" fill="#000" textLength="33" lengthAdjust="spacingAndGlyphs" shape-rendering="auto">6.86760</text>
<rect x="1683" y="341" width="2" height="1" fill="#000"/>
<text x="1688" y="345" font-size="10.3" fill="#000" textLength="33" lengthAdjust="spacingAndGlyphs" shape-rendering="auto">6.82635</text>
<rect x="1683" y="374" width="2" height="1" fill="#000"/>
<text x="1688" y="378" font-size="10.3" fill="#000" textLength="33" lengthAdjust="spacingAndGlyphs" shape-rendering="auto">6.78385</text>
<rect x="1683" y="407" width="2" height="1" fill="#000"/>
<text x="1688" y="411" font-size="10.3" fill="#000" textLength="33" lengthAdjust="spacingAndGlyphs" shape-rendering="auto">6.74260</text>
<rect x="1683" y="440" width="2" height="1" fill="#000"/>
<text x="1688" y="444" font-size="10.3" fill="#000" textLength="33" lengthAdjust="spacingAndGlyphs" shape-rendering="auto">6.70010</text>
<rect x="1683" y="473" width="2" height="1" fill="#000"/>
<text x="1688" y="477" font-size="10.3" fill="#000" textLength="33" lengthAdjust="spacingAndGlyphs" shape-rendering="auto">6.65885</text>
<rect x="1683" y="506" width="2" height="1" fill="#000"/>
<text x="1688" y="510" font-size="10.3" fill="#000" textLength="33" lengthAdjust="spacingAndGlyphs" shape-rendering="auto">6.61760</text>
<rect x="1683" y="539" width="2" height="1" fill="#000"/>
<text x="1688" y="543" font-size="10.3" fill="#000" textLength="33" lengthAdjust="spacingAndGlyphs" shape-rendering="auto">6.57510</text>
<rect x="1683" y="572" width="2" height="1" fill="#000"/>
<text x="1688" y="576" font-size="10.3" fill="#000" textLength="33" lengthAdjust="spacingAndGlyphs" shape-rendering="auto">6.53385</text>
<rect x="1684" y="458" width="41" height="11" fill="#ff0000"/>
<text x="1688" y="467" font-size="10.3" fill="#fff" textLength="33" lengthAdjust="spacingAndGlyphs" shape-rendering="auto">6.67042</text>
<rect x="1684" y="476" width="41" height="11" fill="#ff0000"/>
<text x="1688" y="485" font-size="10.3" fill="#fff" textLength="33" lengthAdjust="spacingAndGlyphs" shape-rendering="auto">6.64766</text>
<rect x="1684" y="504" width="41" height="11" fill="#000"/>
<text x="1688" y="513" font-size="10.3" fill="#fff" textLength="33" lengthAdjust="spacingAndGlyphs" shape-rendering="auto">6.61242</text>
<rect x="1684" y="497" width="41" height="11" fill="#ffa500"/>
<text x="1688" y="506" font-size="10.3" fill="#fff" textLength="33" lengthAdjust="spacingAndGlyphs" shape-rendering="auto">6.62112</text>
<rect x="1684" y="540" width="41" height="11" fill="#0000ff"/>
<text x="1688" y="549" font-size="10.3" fill="#fff" textLength="33" lengthAdjust="spacingAndGlyphs" shape-rendering="auto">6.56676</text>
<rect x="1684" y="562" width="41" height="11" fill="#0000ff"/>
<text x="1688" y="571" font-size="10.3" fill="#fff" textLength="33" lengthAdjust="spacingAndGlyphs" shape-rendering="auto">6.53895</text>
<rect x="1683" y="579" width="2" height="1" fill="#000"/>
<rect x="1683" y="655" width="2" height="1" fill="#000"/>
<rect x="1683" y="746" width="2" height="1" fill="#000"/>
<text x="1687" y="588" font-size="10.3" fill="#000" textLength="38.5" lengthAdjust="spacingAndGlyphs" shape-rendering="auto">0.039044</text>
<text x="1687" y="659" font-size="10.3" fill="#000" textLength="18.5" lengthAdjust="spacingAndGlyphs" shape-rendering="auto">0.00</text>
<text x="1687" y="744" font-size="10.3" fill="#000" textLength="42" lengthAdjust="spacingAndGlyphs" shape-rendering="auto">-0.046959</text>
<rect x="1683" y="751" width="2" height="1" fill="#000"/>
<rect x="1683" y="785" width="2" height="1" fill="#000"/>
<rect x="1683" y="836" width="2" height="1" fill="#000"/>
<rect x="1683" y="897" width="2" height="1" fill="#000"/>
<rect x="1683" y="922" width="2" height="1" fill="#000"/>
<text x="1687" y="760" font-size="10.3" fill="#000" textLength="14.5" lengthAdjust="spacingAndGlyphs" shape-rendering="auto">100</text>
<text x="1687" y="789" font-size="10.3" fill="#000" textLength="9.8" lengthAdjust="spacingAndGlyphs" shape-rendering="auto">80</text>
<text x="1687" y="840" font-size="10.3" fill="#000" textLength="9.8" lengthAdjust="spacingAndGlyphs" shape-rendering="auto">50</text>
<text x="1687" y="901" font-size="10.3" fill="#000" textLength="9.8" lengthAdjust="spacingAndGlyphs" shape-rendering="auto">15</text>
<text x="1687" y="920" font-size="10.3" fill="#000" textLength="5" lengthAdjust="spacingAndGlyphs" shape-rendering="auto">0</text>
<text transform="translate(-9.2 936) scale(0.915 1)" font-size="10.3" fill="#000">6 Mar 2020</text>
<rect x="56" y="924" width="1" height="3" fill="#000"/>
<text transform="translate(54.8 936) scale(0.915 1)" font-size="10.3" fill="#000">18 Mar 2020</text>
<rect x="120" y="924" width="1" height="3" fill="#000"/>
<text transform="translate(118.8 936) scale(0.915 1)" font-size="10.3" fill="#000">30 Mar 2020</text>
<rect x="184" y="924" width="1" height="3" fill="#000"/>
<text transform="translate(182.8 936) scale(0.915 1)" font-size="10.3" fill="#000">9 Apr 2020</text>
<rect x="248" y="924" width="1" height="3" fill="#000"/>
<text transform="translate(246.8 936) scale(0.915 1)" font-size="10.3" fill="#000">22 Apr 2020</text>
<rect x="312" y="924" width="1" height="3" fill="#000"/>
<text transform="translate(310.8 936) scale(0.915 1)" font-size="10.3" fill="#000">4 May 2020</text>
<rect x="376" y="924" width="1" height="3" fill="#000"/>
<text transform="translate(374.8 936) scale(0.915 1)" font-size="10.3" fill="#000">14 May 2020</text>
<rect x="440" y="924" width="1" height="3" fill="#000"/>
<text transform="translate(438.8 936) scale(0.915 1)" font-size="10.3" fill="#000">26 May 2020</text>
<rect x="504" y="924" width="1" height="3" fill="#000"/>
<text transform="translate(502.8 936) scale(0.915 1)" font-size="10.3" fill="#000">5 Jun 2020</text>
<rect x="568" y="924" width="1" height="3" fill="#000"/>
<text transform="translate(566.8 936) scale(0.915 1)" font-size="10.3" fill="#000">17 Jun 2020</text>
<rect x="632" y="924" width="1" height="3" fill="#000"/>
<text transform="translate(630.8 936) scale(0.915 1)" font-size="10.3" fill="#000">29 Jun 2020</text>
<rect x="696" y="924" width="1" height="3" fill="#000"/>
<text transform="translate(694.8 936) scale(0.915 1)" font-size="10.3" fill="#000">9 Jul 2020</text>
<rect x="760" y="924" width="1" height="3" fill="#000"/>
<text transform="translate(758.8 936) scale(0.915 1)" font-size="10.3" fill="#000">21 Jul 2020</text>
<rect x="824" y="924" width="1" height="3" fill="#000"/>
<text transform="translate(822.8 936) scale(0.915 1)" font-size="10.3" fill="#000">31 Jul 2020</text>
<rect x="888" y="924" width="1" height="3" fill="#000"/>
<text transform="translate(886.8 936) scale(0.915 1)" font-size="10.3" fill="#000">12 Aug 2020</text>
<rect x="952" y="924" width="1" height="3" fill="#000"/>
<text transform="translate(950.8 936) scale(0.915 1)" font-size="10.3" fill="#000">24 Aug 2020</text>
<rect x="1016" y="924" width="1" height="3" fill="#000"/>
<text transform="translate(1014.8 936) scale(0.915 1)" font-size="10.3" fill="#000">3 Sep 2020</text>
<rect x="1080" y="924" width="1" height="3" fill="#000"/>
<text transform="translate(1078.8 936) scale(0.915 1)" font-size="10.3" fill="#000">15 Sep 2020</text>
<rect x="1144" y="924" width="1" height="3" fill="#000"/>
<text transform="translate(1142.8 936) scale(0.915 1)" font-size="10.3" fill="#000">25 Sep 2020</text>
<rect x="1208" y="924" width="1" height="3" fill="#000"/>
<text transform="translate(1206.8 936) scale(0.915 1)" font-size="10.3" fill="#000">7 Oct 2020</text>
<rect x="1272" y="924" width="1" height="3" fill="#000"/>
<text transform="translate(1270.8 936) scale(0.915 1)" font-size="10.3" fill="#000">19 Oct 2020</text>
<rect x="1336" y="924" width="1" height="3" fill="#000"/>
<text transform="translate(1334.8 936) scale(0.915 1)" font-size="10.3" fill="#000">29 Oct 2020</text>
<rect x="1400" y="924" width="1" height="3" fill="#000"/>
<text transform="translate(1398.8 936) scale(0.915 1)" font-size="10.3" fill="#000">10 Nov 2020</text>
</g>
<polygon points="0,30 2.5,33 0,33" fill="#000"/>
<text x="7.3" y="34" font-size="10.3" fill="#000" textLength="68" lengthAdjust="spacingAndGlyphs">USDCNH-,Daily</text>
<text x="81.9" y="34" font-size="10.3" fill="#000" textLength="140.5" lengthAdjust="spacingAndGlyphs">6.61462 6.63388 6.60051 6.61242</text>
<text x="-3.5" y="590" font-size="10.3" fill="#000" textLength="153.5" lengthAdjust="spacingAndGlyphs">MACD(12,26,9) -0.037216 -0.032846</text>
<text x="-3.5" y="762" font-size="10.3" fill="#000" textLength="67.5" lengthAdjust="spacingAndGlyphs">RSI(14) 36.4359</text>
<defs>
<linearGradient id="gb" x1="0" y1="0" x2="0" y2="1"><stop offset="0" stop-color="#fb5256"/><stop offset="1" stop-color="#e0353a"/></linearGradient>
<linearGradient id="gp" x1="0" y1="0" x2="0" y2="1"><stop offset="0" stop-color="#de3236"/><stop offset="0.5" stop-color="#c81a1d"/><stop offset="1" stop-color="#b20000"/></linearGradient>
<linearGradient id="gs" x1="0" y1="0" x2="0" y2="1"><stop offset="0" stop-color="#f6f6f6"/><stop offset="0.4" stop-color="#ececec"/><stop offset="0.42" stop-color="#d8d8d8"/><stop offset="1" stop-color="#cfcfcf"/></linearGradient>
</defs>
<g id="panel" shape-rendering="crispEdges">
<rect x="0" y="42" width="216" height="66" fill="#fff"/>
<rect x="0" y="42" width="47" height="25" fill="url(#gb)"/>
<rect x="0" y="66" width="104" height="40" fill="url(#gp)"/>
<rect x="0" y="42" width="47" height="1" fill="#c8282c"/>
<rect x="46" y="42" width="1" height="24" fill="#c01a1e"/>
<rect x="0" y="65" width="43" height="1" fill="#9c0a0e"/>
<rect x="46" y="66" width="58" height="1" fill="#b8161a"/>
<rect x="162" y="42" width="52" height="25" fill="url(#gb)"/>
<rect x="106" y="66" width="108" height="40" fill="url(#gp)"/>
<rect x="162" y="42" width="52" height="1" fill="#c8282c"/>
<rect x="162" y="42" width="1" height="24" fill="#c01a1e"/>
<rect x="213" y="42" width="1" height="64" fill="#c01a1e"/>
<rect x="166" y="65" width="44" height="1" fill="#9c0a0e"/>
<rect x="106" y="66" width="57" height="1" fill="#b8161a"/>
<rect x="49" y="42" width="111" height="22" fill="#a9adb6"/>
<rect x="50" y="43" width="109" height="20" fill="#fff"/>
<rect x="50" y="43" width="20" height="20" fill="url(#gs)"/>
<rect x="139" y="43" width="20" height="20" fill="url(#gs)"/>
<rect x="70" y="43" width="1" height="20" fill="#b4b8c0"/>
<rect x="138" y="43" width="1" height="20" fill="#b4b8c0"/>
</g>
<polygon points="57,51.5 62.4,51.5 59.7,54.6" fill="#4a5cc0"/>
<polygon points="145.8,54.4 151.4,54.4 148.6,51.2" fill="#4a5cc0"/>
<text x="7.3" y="57.8" font-size="12.6" fill="#fff" textLength="25.3" lengthAdjust="spacingAndGlyphs">SELL</text>
<text x="175.6" y="57.8" font-size="12.6" fill="#fff" textLength="23" lengthAdjust="spacingAndGlyphs">BUY</text>
<text x="111.5" y="56.8" font-size="12.3" fill="#1a1a1a" textLength="23.4" lengthAdjust="spacingAndGlyphs">1.00</text>
<text x="15" y="96.7" font-size="12.2" fill="#fff" font-weight="bold" textLength="23.6" lengthAdjust="spacingAndGlyphs">6.61</text>
<text x="43.2" y="97.4" font-size="35.2" fill="#fff" textLength="34.6" lengthAdjust="spacingAndGlyphs" stroke="#cf2125" stroke-width="0.75">24</text>
<text x="82.2" y="80.8" font-size="12" fill="#fff" font-weight="bold">2</text>
<text x="125" y="96.7" font-size="12.2" fill="#fff" font-weight="bold" textLength="23.6" lengthAdjust="spacingAndGlyphs">6.62</text>
<text x="153.2" y="97.4" font-size="35.2" fill="#fff" textLength="34.6" lengthAdjust="spacingAndGlyphs" stroke="#cf2125" stroke-width="0.75">24</text>
<text x="192.2" y="80.8" font-size="12" fill="#fff" font-weight="bold">2</text>
<g id="toolbar">
<rect x="0" y="0" width="1729" height="17" fill="#f0f0f0" shape-rendering="crispEdges"/>
<rect x="0" y="17" width="1729" height="1" fill="#f8f8f8" shape-rendering="crispEdges"/>
<rect x="0" y="18" width="1729" height="1" fill="#a6a6a6" shape-rendering="crispEdges"/>
<rect x="0" y="19" width="1728" height="1" fill="#686868" shape-rendering="crispEdges"/>
<rect x="1728" y="19" width="1" height="919" fill="#e3e3e3" shape-rendering="crispEdges"/>
<rect x="318" y="0" width="24" height="16" fill="#f9f9f9" shape-rendering="crispEdges"/>
<rect x="470" y="0" width="25" height="16" fill="#f9f9f9" shape-rendering="crispEdges"/>
<rect x="498" y="0" width="25" height="16" fill="#f9f9f9" shape-rendering="crispEdges"/>
<rect x="658" y="0" width="25" height="16" fill="#f9f9f9" shape-rendering="crispEdges"/>
<rect x="1132" y="0" width="25" height="16" fill="#f9f9f9" shape-rendering="crispEdges"/>
<rect x="43" y="0" width="1" height="16" fill="#a0a0a0" shape-rendering="crispEdges"/>
<rect x="317" y="0" width="1" height="16" fill="#a0a0a0" shape-rendering="crispEdges"/>
<rect x="374" y="0" width="1" height="16" fill="#a0a0a0" shape-rendering="crispEdges"/>
<rect x="464" y="0" width="1" height="16" fill="#a0a0a0" shape-rendering="crispEdges"/>
<rect x="469" y="0" width="1" height="16" fill="#a0a0a0" shape-rendering="crispEdges"/>
<rect x="497" y="0" width="1" height="16" fill="#a0a0a0" shape-rendering="crispEdges"/>
<rect x="526" y="0" width="1" height="16" fill="#a0a0a0" shape-rendering="crispEdges"/>
<rect x="657" y="0" width="1" height="16" fill="#a0a0a0" shape-rendering="crispEdges"/>
<rect x="714" y="0" width="1" height="16" fill="#a0a0a0" shape-rendering="crispEdges"/>
<rect x="1131" y="0" width="1" height="16" fill="#a0a0a0" shape-rendering="crispEdges"/>
<rect x="279" y="0" width="1" height="18" fill="#909090" shape-rendering="crispEdges"/>
<rect x="647" y="0" width="1" height="18" fill="#909090" shape-rendering="crispEdges"/>
<rect x="953" y="0" width="1" height="18" fill="#909090" shape-rendering="crispEdges"/>
<rect x="1214" y="0" width="1" height="18" fill="#909090" shape-rendering="crispEdges"/>
<rect x="283" y="0" width="3" height="1" fill="#b4b4b4" shape-rendering="crispEdges"/>
<rect x="283" y="2" width="3" height="1" fill="#b4b4b4" shape-rendering="crispEdges"/>
<rect x="283" y="4" width="3" height="1" fill="#b4b4b4" shape-rendering="crispEdges"/>
<rect x="283" y="6" width="3" height="1" fill="#b4b4b4" shape-rendering="crispEdges"/>
<rect x="283" y="8" width="3" height="1" fill="#b4b4b4" shape-rendering="crispEdges"/>
<rect x="283" y="10" width="3" height="1" fill="#b4b4b4" shape-rendering="crispEdges"/>
<rect x="283" y="12" width="3" height="1" fill="#b4b4b4" shape-rendering="crispEdges"/>
<rect x="283" y="14" width="3" height="1" fill="#b4b4b4" shape-rendering="crispEdges"/>
<rect x="651" y="0" width="3" height="1" fill="#b4b4b4" shape-rendering="crispEdges"/>
<rect x="651" y="2" width="3" height="1" fill="#b4b4b4" shape-rendering="crispEdges"/>
<rect x="651" y="4" width="3" height="1" fill="#b4b4b4" shape-rendering="crispEdges"/>
<rect x="651" y="6" width="3" height="1" fill="#b4b4b4" shape-rendering="crispEdges"/>
<rect x="651" y="8" width="3" height="1" fill="#b4b4b4" shape-rendering="crispEdges"/>
<rect x="651" y="10" width="3" height="1" fill="#b4b4b4" shape-rendering="crispEdges"/>
<rect x="651" y="12" width="3" height="1" fill="#b4b4b4" shape-rendering="crispEdges"/>
<rect x="651" y="14" width="3" height="1" fill="#b4b4b4" shape-rendering="crispEdges"/>
<rect x="957" y="0" width="3" height="1" fill="#b4b4b4" shape-rendering="crispEdges"/>
<rect x="957" y="2" width="3" height="1" fill="#b4b4b4" shape-rendering="crispEdges"/>
<rect x="957" y="4" width="3" height="1" fill="#b4b4b4" shape-rendering="crispEdges"/>
<rect x="957" y="6" width="3" height="1" fill="#b4b4b4" shape-rendering="crispEdges"/>
<rect x="957" y="8" width="3" height="1" fill="#b4b4b4" shape-rendering="crispEdges"/>
<rect x="957" y="10" width="3" height="1" fill="#b4b4b4" shape-rendering="crispEdges"/>
<rect x="957" y="12" width="3" height="1" fill="#b4b4b4" shape-rendering="crispEdges"/>
<rect x="957" y="14" width="3" height="1" fill="#b4b4b4" shape-rendering="crispEdges"/>
<rect x="-6" y="-4" width="11.3" height="16.3" fill="#fff" stroke="#3d78dc" stroke-width="1.4"/>
<line x1="-2" y1="1.5" x2="4" y2="1.5" stroke="#9cc0f0" stroke-width="1"/>
<line x1="-2" y1="4" x2="4" y2="4" stroke="#9cc0f0" stroke-width="1"/>
<line x1="-2" y1="6.5" x2="4" y2="6.5" stroke="#9cc0f0" stroke-width="1"/>
<line x1="-2" y1="9" x2="4" y2="9" stroke="#9cc0f0" stroke-width="1"/>
<rect x="18.8" y="-4" width="11" height="15" fill="#f7f7f7" stroke="#a8a8a8" stroke-width="1"/>
<line x1="30.2" y1="10.2" x2="35" y2="15" stroke="#d9a327" stroke-width="2.4" stroke-linecap="round"/>
<circle cx="26.3" cy="6.3" r="4.8" fill="#d6e6f7" fill-opacity="0.85" stroke="#6f9fe3" stroke-width="1.3"/>
<rect x="24.6" y="3.5" width="3" height="5" fill="#9fb0c4"/>
<path d="M53.5 -4 H61.5 L64.5 0 V11 H53.5 Z" fill="#fcfcfc" stroke="#8a8a8a" stroke-width="1"/>
<line x1="55.5" y1="1.5" x2="61.5" y2="1.5" stroke="#9a9a9a" stroke-width="1"/>
<line x1="55.5" y1="4.5" x2="61.5" y2="4.5" stroke="#9a9a9a" stroke-width="1"/>
<line x1="55.5" y1="7.5" x2="61.5" y2="7.5" stroke="#9a9a9a" stroke-width="1"/>
<path d="M61.4 4.700000000000001 h3.4 v3.9 h3.9 v3.4 h-3.9 v3.9 h-3.4 v-3.9 h-3.9 v-3.4 h3.9 Z" fill="#1fc51f" stroke="#0d8f0d" stroke-width="0.9"/>
<text x="71.6" y="8.9" font-size="12" fill="#000" font-family="&quot;Liberation Sans&quot;, &quot;Noto Sans CJK SC&quot;, sans-serif" textLength="36.2" lengthAdjust="spacing">新订单</text>
<path d="M124.9 -1 L128.2 -1 L135 5.2 L135.9 8 L127.7 13.9 L120.4 8.3 L123.9 3.5 Z" fill="#eebc1e" stroke="#a8700c" stroke-width="1"/>
<path d="M124.6 3.4 L128 0.4 L133.6 5.6 L127.4 10.6 L122.4 7.2 Z" fill="#f9dc5a"/>
<path d="M121.4 8.6 L127.7 12.6 L135 7.4" fill="none" stroke="#c8901a" stroke-width="1.2"/>
<rect x="150.4" y="-3" width="10.6" height="11" fill="#219cf0" stroke="#1683d8" stroke-width="0.6"/>
<rect x="153.2" y="-3" width="0.9" height="10" fill="#d8efff"/>
<rect x="155.2" y="2.6" width="4.2" height="1.5" fill="#d8efff"/>
<path d="M150.6 13.7 C147 13.7 147.2 8.8 150.8 9 C151.2 6.2 155.4 5.6 157 8 C160 6.2 164.6 8.6 163.4 11.2 C164.8 12 164 13.7 162 13.7 Z" fill="#e6ecf6" stroke="#4a6cae" stroke-width="1"/>
<path d="M150 10.4 C151.4 9.4 152.6 9.6 153 9 C154 7.4 156 7.4 157 8.8 C159 7.6 162 8.6 162.4 10.4 Z" fill="#fff"/>
<path d="M179.4 0.5 A7.2 7.2 0 0 0 180.6 12.6" fill="none" stroke="#7fa2e6" stroke-width="1.2"/>
<path d="M181.5 2.4 A4.4 4.4 0 0 0 182 10.2" fill="none" stroke="#4f7fe0" stroke-width="1.3"/>
<path d="M188.6 0.5 A7.2 7.2 0 0 1 186 13" fill="none" stroke="#7bbf8a" stroke-width="1.6"/>
<path d="M186.5 2.4 A4.4 4.4 0 0 1 186 10" fill="none" stroke="#5aa86a" stroke-width="1.2"/>
<circle cx="184" cy="6" r="1.7" fill="#2a66d6"/>
<line x1="184.3" y1="6.5" x2="184.3" y2="13.8" stroke="#2fa02f" stroke-width="1.6"/>
<path d="M204 4.5 L218.4 4.5 L213.6 12.8 L209.4 12.8 Z" fill="#f6d540" stroke="#d0a818" stroke-width="0.8"/>
<ellipse cx="211" cy="2" rx="8" ry="3.4" fill="#45a6e6" stroke="#2a86c8" stroke-width="0.8"/>
<ellipse cx="211" cy="-1" rx="4.5" ry="3.5" fill="#3a98dc"/>
<circle cx="215.4" cy="10.3" r="4" fill="#de2a14"/>
<rect x="214" y="9" width="2.8" height="2.8" fill="#fff"/>
<text x="223.8" y="8.9" font-size="12" fill="#000" font-family="&quot;Liberation Sans&quot;, &quot;Noto Sans CJK SC&quot;, sans-serif" textLength="47.7" lengthAdjust="spacing">自动交易</text>
<path d="M297.5 -2 V13.8 M295 11.3 H308.5" fill="none" stroke="#555" stroke-width="1.3"/>
<path d="M306.8 9.6 L309 11.3 L306.8 13 Z" fill="#555"/>
<path d="M295.8 1.4 L297.5 -0.8 L299.2 1.4 Z" fill="#555"/>
<path d="M301 9 H303.6 V1.8 H306.2" fill="none" stroke="#1f9c1f" stroke-width="1.4"/>
<path d="M325.5 -2 V13.8 M323 11.3 H336.5" fill="none" stroke="#555" stroke-width="1.3"/>
<path d="M334.8 9.6 L337 11.3 L334.8 13 Z" fill="#555"/>
<path d="M323.8 1.4 L325.5 -0.8 L327.2 1.4 Z" fill="#555"/>
<line x1="331.6" y1="7" x2="331.6" y2="9.8" stroke="#1f9c1f" stroke-width="1.3"/>
<rect x="329.3" y="-1" width="4.6" height="8.4" fill="#38dc4c" stroke="#1a9a2a" stroke-width="0.9"/>
<path d="M353.5 -2 V13.8 M351 11.3 H364.5" fill="none" stroke="#555" stroke-width="1.3"/>
<path d="M362.8 9.6 L365 11.3 L362.8 13 Z" fill="#555"/>
<path d="M351.8 1.4 L353.5 -0.8 L355.2 1.4 Z" fill="#555"/>
<path d="M352.4 8.8 C355 6.5 356.5 3.2 358.6 3.2 C360.5 3.2 361.5 6 363.8 7" fill="none" stroke="#2f9a3a" stroke-width="1.3"/>
<line x1="393" y1="8" x2="398.4" y2="13.2" stroke="#d7b02a" stroke-width="2.8" stroke-linecap="round"/>
<line x1="393.3" y1="8.3" x2="398" y2="12.9" stroke="#f6e27a" stroke-width="1"/>
<circle cx="389" cy="3.6" r="5.3" fill="#dcecfb" stroke="#3f7fd6" stroke-width="1.3"/>
<line x1="386" y1="3.7" x2="392" y2="3.7" stroke="#3f7fc8" stroke-width="1.7"/>
<line x1="389" y1="0.7" x2="389" y2="6.7" stroke="#3f7fc8" stroke-width="1.7"/>
<line x1="421.3" y1="8" x2="426.7" y2="13.2" stroke="#d7b02a" stroke-width="2.8" stroke-linecap="round"/>
<line x1="421.6" y1="8.3" x2="426.3" y2="12.9" stroke="#f6e27a" stroke-width="1"/>
<circle cx="417.3" cy="3.6" r="5.3" fill="#dcecfb" stroke="#3f7fd6" stroke-width="1.3"/>
<line x1="414.3" y1="3.7" x2="420.3" y2="3.7" stroke="#3f7fc8" stroke-width="1.7"/>
<rect x="439" y="-1.5" width="7.6" height="7.2" fill="#41a51f"/>
<rect x="440.4" y="1.7000000000000002" width="4.8" height="2.6" fill="#e8f2e0" fill-opacity="0.9"/>
<rect x="447.6" y="-1.5" width="7.6" height="7.2" fill="#2b63d9"/>
<rect x="449.0" y="1.7000000000000002" width="4.8" height="2.6" fill="#e8f2e0" fill-opacity="0.9"/>
<rect x="439" y="6.4" width="7.6" height="7.2" fill="#2b63d9"/>
<rect x="440.4" y="9.600000000000001" width="4.8" height="2.6" fill="#e8f2e0" fill-opacity="0.9"/>
<rect x="447.6" y="6.4" width="7.6" height="7.2" fill="#41a51f"/>
<rect x="449.0" y="9.600000000000001" width="4.8" height="2.6" fill="#e8f2e0" fill-opacity="0.9"/>
<path d="M477.5 -2 V13.8 M475 11.3 H488.5" fill="none" stroke="#555" stroke-width="1.3"/>
<path d="M486.8 9.6 L489 11.3 L486.8 13 Z" fill="#555"/>
<path d="M475.8 1.4 L477.5 -0.8 L479.2 1.4 Z" fill="#555"/>
<path d="M482.2 2.4 L486.2 5.5 L482.2 8.6 Z" fill="#8fe58f" stroke="#1f9c1f" stroke-width="1"/>
<path d="M505.5 -2 V13.8 M503 11.3 H516.5" fill="none" stroke="#555" stroke-width="1.3"/>
<path d="M514.8 9.6 L517 11.3 L514.8 13 Z" fill="#555"/>
<path d="M503.8 1.4 L505.5 -0.8 L507.2 1.4 Z" fill="#555"/>
<line x1="511.6" y1="-1" x2="511.6" y2="9.6" stroke="#2a72c2" stroke-width="1.3"/>
<path d="M512.6 5.5 L516.6 3.2 L515.6 5.5 L516.6 7.8 Z" fill="#e03a12" stroke="#c23010" stroke-width="0.6"/>
<line x1="515" y1="5.5" x2="518.6" y2="5.5" stroke="#c23010" stroke-width="1"/>
<path d="M536.5 -4 H544.5 L547.5 0 V11 H536.5 Z" fill="#fcfcfc" stroke="#8a8a8a" stroke-width="1"/>
<line x1="538.5" y1="1.5" x2="544.5" y2="1.5" stroke="#9a9a9a" stroke-width="1"/>
<line x1="538.5" y1="4.5" x2="544.5" y2="4.5" stroke="#9a9a9a" stroke-width="1"/>
<line x1="538.5" y1="7.5" x2="544.5" y2="7.5" stroke="#9a9a9a" stroke-width="1"/>
<path d="M544.4 4.700000000000001 h3.4 v3.9 h3.9 v3.4 h-3.9 v3.9 h-3.4 v-3.9 h-3.9 v-3.4 h3.9 Z" fill="#1fc51f" stroke="#0d8f0d" stroke-width="0.9"/>
<path d="M558 5 H563.6 L560.8 8 Z" fill="#000"/>
<path d="M597 5 H602.6 L599.8 8 Z" fill="#000"/>
<path d="M636 5 H641.6 L638.8 8 Z" fill="#000"/>
<path d="M942 5 H947.6 L944.8 8 Z" fill="#000"/>
<circle cx="582" cy="5.8" r="6.6" fill="#f4f8fd" stroke="#1c5fd2" stroke-width="2.3"/>
<path d="M581.6 1.6 V6.4 H584.4" fill="none" stroke="#333" stroke-width="1.1"/>
<rect x="613.6" y="-2" width="15" height="14.4" fill="#fff" stroke="#2d74d4" stroke-width="1.2"/>
<rect x="613.6" y="-2" width="15" height="3.2" fill="#4a8de0"/>
<line x1="613.6" y1="7" x2="628.6" y2="7" stroke="#2d74d4" stroke-width="1"/>
<path d="M615.5 5 L618 4.6 L620 3.2 L622.5 4.4 L624.5 3.4 L627 3" fill="none" stroke="#b02a10" stroke-width="1.2"/>
<path d="M615.5 10.4 L618 10 L620 9 L622 10.4 L624.4 8.4 L627 10.6" fill="none" stroke="#1f9c2f" stroke-width="1.2"/>
<path d="M665.4 -2 V9.8 L668.2 7.6 L670.4 12.8 L672.4 11.9 L670.2 6.9 L673.6 6.6 Z" fill="#4a4a4a"/>
<path d="M690 6.5 H705 M697.5 -1 V14" fill="none" stroke="#555" stroke-width="1.2"/>
<line x1="731.5" y1="-1" x2="731.5" y2="13" stroke="#555" stroke-width="1.3"/>
<line x1="754" y1="6.5" x2="766" y2="6.5" stroke="#555" stroke-width="1.3"/>
<line x1="781.6" y1="13" x2="794" y2="1" stroke="#555" stroke-width="1.3"/>
<path d="M808 8.5 L820 -2 M809.5 12.5 L822.5 1.5 M812 5 V12 M815 2.5 V9.5 M818 0 V7" fill="none" stroke="#555" stroke-width="1.1"/>
<text x="818.6" y="15" font-size="6.8" font-weight="bold" fill="#333">E</text>
<line x1="837" y1="2.5" x2="850" y2="2.5" stroke="#555" stroke-width="1" stroke-dasharray="1 1"/>
<line x1="837" y1="6.5" x2="850" y2="6.5" stroke="#555" stroke-width="1" stroke-dasharray="1 1"/>
<line x1="837" y1="10.5" x2="846" y2="10.5" stroke="#555" stroke-width="1" stroke-dasharray="1 1"/>
<text x="846.6" y="15" font-size="6.8" font-weight="bold" fill="#333">F</text>
<text x="867.4" y="11" font-size="12.4" fill="#555" stroke="#555" stroke-width="0.3" textLength="8.4" lengthAdjust="spacingAndGlyphs">A</text>
<rect x="894.5" y="0.3" width="11.4" height="12" fill="none" stroke="#555" stroke-width="1" stroke-dasharray="1 1"/>
<path d="M897 3.6 H904 M900.5 3.6 V11" fill="none" stroke="#555" stroke-width="1.5"/>
<path d="M925.4 -1 L928.6 2 L925.4 4.6 L922.2 2 Z" fill="#444"/>
<path d="M931.6 7.6 L935 10.2 L931.6 13 L928.2 10.2 Z" fill="#444"/>
<path d="M923.6 7.4 L925.6 9.2 L930 3.6" fill="none" stroke="#444" stroke-width="1.3"/>
<text x="968.5" y="10" font-size="10.2" fill="#444" textLength="12.5" lengthAdjust="spacingAndGlyphs">M1</text>
<text x="996.5" y="10" font-size="10.2" fill="#444" textLength="12.5" lengthAdjust="spacingAndGlyphs">M5</text>
<text x="1022.5" y="10" font-size="10.2" fill="#444" textLength="17.5" lengthAdjust="spacingAndGlyphs">M15</text>
<text x="1050.5" y="10" font-size="10.2" fill="#444" textLength="17.5" lengthAdjust="spacingAndGlyphs">M30</text>
<text x="1081.5" y="10" font-size="10.2" fill="#444" textLength="11.5" lengthAdjust="spacingAndGlyphs">H1</text>
<text x="1108.5" y="10" font-size="10.2" fill="#444" textLength="12.5" lengthAdjust="spacingAndGlyphs">H4</text>
<text x="1137.5" y="10" font-size="10.2" fill="#444" textLength="12" lengthAdjust="spacingAndGlyphs">D1</text>
<text x="1165" y="10" font-size="10.2" fill="#444" textLength="14" lengthAdjust="spacingAndGlyphs">W1</text>
<text x="1191.5" y="10" font-size="10.2" fill="#444" textLength="14.5" lengthAdjust="spacingAndGlyphs">MN</text>
<line x1="1682" y1="7" x2="1677.2" y2="10.8" stroke="#2352d2" stroke-width="2.4" stroke-linecap="round"/>
<circle cx="1684.6" cy="3" r="3.7" fill="#fdfdff" stroke="#2a5ee0" stroke-width="1.4"/>
<ellipse cx="1717" cy="2.3" rx="6.6" ry="5.6" fill="#f3f3f6" stroke="#a0a0a0" stroke-width="0.9"/>
<path d="M1718 7.6 L1720.6 9.8 L1720.8 7" fill="#777"/>
<ellipse cx="1708.4" cy="6.8" rx="5.3" ry="3.9" fill="#f6f6fa" stroke="#909090" stroke-width="0.9"/>
<path d="M1705.4 10 L1705.2 12.8 L1708 10.6" fill="#777"/>
</g>
<rect x="1422.6" y="23" width="0" height="0"/>
<polygon points="1422.5,23 1432.5,23 1427.5,28.4" fill="#c0c0c0"/>
<text x="1474" y="499.3" font-size="20.6" fill="#00ff00" font-family="&quot;Liberation Serif&quot;, &quot;Noto Serif CJK SC&quot;, serif" textLength="107.8" lengthAdjust="spacing">多空转折点</text>
</svg>
</body></html>
